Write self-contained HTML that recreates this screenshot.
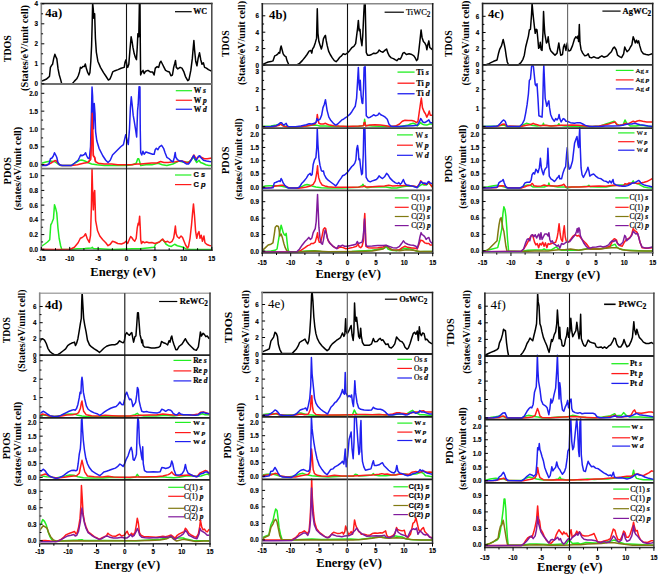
<!DOCTYPE html>
<html><head><meta charset="utf-8"><style>
html,body{margin:0;padding:0;background:#fff;}
svg{display:block;}
.tk{font-family:"Liberation Sans",sans-serif;font-weight:bold;font-size:7px;fill:#000;stroke:#000;stroke-width:0.15px;}
.el{font-family:"Liberation Serif",serif;font-weight:bold;font-size:12.5px;fill:#000;}
.pl{font-family:"Liberation Serif",serif;font-weight:bold;font-size:12.5px;fill:#000;}
.yl{font-family:"Liberation Serif",serif;font-weight:bold;fill:#000;}
.lg{font-family:"Liberation Serif",serif;fill:#000;stroke:#000;stroke-width:0.2px;}
.lgi{font-style:italic;}
</style></head><body>
<svg width="660" height="575" viewBox="0 0 660 575">
<defs><clipPath id="ca"><rect x="41.3" y="3.6" width="170.5" height="246.6"/></clipPath><clipPath id="cb"><rect x="262.3" y="3.8" width="170.4" height="249.2"/></clipPath><clipPath id="cc"><rect x="482.6" y="3.5" width="170.1" height="249.2"/></clipPath><clipPath id="cd"><rect x="39.7" y="293.3" width="170.3" height="250.4"/></clipPath><clipPath id="ce"><rect x="262.1" y="292.5" width="170.4" height="250.8"/></clipPath><clipPath id="cf"><rect x="484.9" y="293.2" width="169" height="254.3"/></clipPath></defs>
<rect width="660" height="575" fill="#fff"/>
<text transform="translate(38,86.3) scale(0.9,1)" class="tk" text-anchor="end">0</text>
<text transform="translate(38,66.3) scale(0.9,1)" class="tk" text-anchor="end">1</text>
<text transform="translate(38,46.3) scale(0.9,1)" class="tk" text-anchor="end">2</text>
<text transform="translate(38,26.3) scale(0.9,1)" class="tk" text-anchor="end">3</text>
<text transform="translate(38,6.3) scale(0.9,1)" class="tk" text-anchor="end">4</text>
<text transform="translate(38,167.2) scale(0.9,1)" class="tk" text-anchor="end">0.0</text>
<text transform="translate(38,149.35) scale(0.9,1)" class="tk" text-anchor="end">0.5</text>
<text transform="translate(38,131.5) scale(0.9,1)" class="tk" text-anchor="end">1.0</text>
<text transform="translate(38,113.65) scale(0.9,1)" class="tk" text-anchor="end">1.5</text>
<text transform="translate(38,95.8) scale(0.9,1)" class="tk" text-anchor="end">2.0</text>
<text transform="translate(38,251.8) scale(0.9,1)" class="tk" text-anchor="end">0.0</text>
<text transform="translate(38,237.08) scale(0.9,1)" class="tk" text-anchor="end">0.2</text>
<text transform="translate(38,222.36) scale(0.9,1)" class="tk" text-anchor="end">0.4</text>
<text transform="translate(38,207.64) scale(0.9,1)" class="tk" text-anchor="end">0.6</text>
<text transform="translate(38,192.92) scale(0.9,1)" class="tk" text-anchor="end">0.8</text>
<text transform="translate(38,178.2) scale(0.9,1)" class="tk" text-anchor="end">1.0</text>
<text transform="translate(41.3,261.2) scale(0.9,1)" class="tk" text-anchor="middle">-15</text>
<text transform="translate(69.72,261.2) scale(0.9,1)" class="tk" text-anchor="middle">-10</text>
<text transform="translate(98.13,261.2) scale(0.9,1)" class="tk" text-anchor="middle">-5</text>
<text transform="translate(126.55,261.2) scale(0.9,1)" class="tk" text-anchor="middle">0</text>
<text transform="translate(154.97,261.2) scale(0.9,1)" class="tk" text-anchor="middle">5</text>
<text transform="translate(183.38,261.2) scale(0.9,1)" class="tk" text-anchor="middle">10</text>
<text transform="translate(211.8,261.2) scale(0.9,1)" class="tk" text-anchor="middle">15</text>
<text x="123" y="276" class="el" text-anchor="middle" textLength="65.5" lengthAdjust="spacingAndGlyphs">Energy (eV)</text>
<text transform="translate(259,67.5) scale(0.9,1)" class="tk" text-anchor="end">0</text>
<text transform="translate(259,51.1) scale(0.9,1)" class="tk" text-anchor="end">2</text>
<text transform="translate(259,34.7) scale(0.9,1)" class="tk" text-anchor="end">4</text>
<text transform="translate(259,18.3) scale(0.9,1)" class="tk" text-anchor="end">6</text>
<text transform="translate(259,128.9) scale(0.9,1)" class="tk" text-anchor="end">0</text>
<text transform="translate(259,110.5) scale(0.9,1)" class="tk" text-anchor="end">1</text>
<text transform="translate(259,92.1) scale(0.9,1)" class="tk" text-anchor="end">2</text>
<text transform="translate(259,73.7) scale(0.9,1)" class="tk" text-anchor="end">3</text>
<text transform="translate(259,189.7) scale(0.9,1)" class="tk" text-anchor="end">0.0</text>
<text transform="translate(259,176.45) scale(0.9,1)" class="tk" text-anchor="end">0.5</text>
<text transform="translate(259,163.2) scale(0.9,1)" class="tk" text-anchor="end">1.0</text>
<text transform="translate(259,149.95) scale(0.9,1)" class="tk" text-anchor="end">1.5</text>
<text transform="translate(259,136.7) scale(0.9,1)" class="tk" text-anchor="end">2.0</text>
<text transform="translate(259,253.5) scale(0.9,1)" class="tk" text-anchor="end">0.0</text>
<text transform="translate(259,237.06) scale(0.9,1)" class="tk" text-anchor="end">0.3</text>
<text transform="translate(259,220.62) scale(0.9,1)" class="tk" text-anchor="end">0.6</text>
<text transform="translate(259,204.18) scale(0.9,1)" class="tk" text-anchor="end">0.9</text>
<text transform="translate(262.3,264.6) scale(0.9,1)" class="tk" text-anchor="middle">-15</text>
<text transform="translate(290.7,264.6) scale(0.9,1)" class="tk" text-anchor="middle">-10</text>
<text transform="translate(319.1,264.6) scale(0.9,1)" class="tk" text-anchor="middle">-5</text>
<text transform="translate(347.5,264.6) scale(0.9,1)" class="tk" text-anchor="middle">0</text>
<text transform="translate(375.9,264.6) scale(0.9,1)" class="tk" text-anchor="middle">5</text>
<text transform="translate(404.3,264.6) scale(0.9,1)" class="tk" text-anchor="middle">10</text>
<text transform="translate(432.7,264.6) scale(0.9,1)" class="tk" text-anchor="middle">15</text>
<text x="348.2" y="278" class="el" text-anchor="middle" textLength="65.5" lengthAdjust="spacingAndGlyphs">Energy (eV)</text>
<text transform="translate(479.3,67.4) scale(0.9,1)" class="tk" text-anchor="end">0</text>
<text transform="translate(479.3,51.2) scale(0.9,1)" class="tk" text-anchor="end">2</text>
<text transform="translate(479.3,35) scale(0.9,1)" class="tk" text-anchor="end">4</text>
<text transform="translate(479.3,18.8) scale(0.9,1)" class="tk" text-anchor="end">6</text>
<text transform="translate(479.3,128.9) scale(0.9,1)" class="tk" text-anchor="end">0</text>
<text transform="translate(479.3,110.5) scale(0.9,1)" class="tk" text-anchor="end">1</text>
<text transform="translate(479.3,92.1) scale(0.9,1)" class="tk" text-anchor="end">2</text>
<text transform="translate(479.3,73.7) scale(0.9,1)" class="tk" text-anchor="end">3</text>
<text transform="translate(479.3,189.7) scale(0.9,1)" class="tk" text-anchor="end">0.0</text>
<text transform="translate(479.3,176.45) scale(0.9,1)" class="tk" text-anchor="end">0.5</text>
<text transform="translate(479.3,163.2) scale(0.9,1)" class="tk" text-anchor="end">1.0</text>
<text transform="translate(479.3,149.95) scale(0.9,1)" class="tk" text-anchor="end">1.5</text>
<text transform="translate(479.3,136.7) scale(0.9,1)" class="tk" text-anchor="end">2.0</text>
<text transform="translate(479.3,253.3) scale(0.9,1)" class="tk" text-anchor="end">0.0</text>
<text transform="translate(479.3,236.86) scale(0.9,1)" class="tk" text-anchor="end">0.3</text>
<text transform="translate(479.3,220.42) scale(0.9,1)" class="tk" text-anchor="end">0.6</text>
<text transform="translate(479.3,203.98) scale(0.9,1)" class="tk" text-anchor="end">0.9</text>
<text transform="translate(482.6,264.6) scale(0.9,1)" class="tk" text-anchor="middle">-15</text>
<text transform="translate(510.95,264.6) scale(0.9,1)" class="tk" text-anchor="middle">-10</text>
<text transform="translate(539.3,264.6) scale(0.9,1)" class="tk" text-anchor="middle">-5</text>
<text transform="translate(567.65,264.6) scale(0.9,1)" class="tk" text-anchor="middle">0</text>
<text transform="translate(596,264.6) scale(0.9,1)" class="tk" text-anchor="middle">5</text>
<text transform="translate(624.35,264.6) scale(0.9,1)" class="tk" text-anchor="middle">10</text>
<text transform="translate(652.7,264.6) scale(0.9,1)" class="tk" text-anchor="middle">15</text>
<text x="567.4" y="278.8" class="el" text-anchor="middle" textLength="65.5" lengthAdjust="spacingAndGlyphs">Energy (eV)</text>
<text transform="translate(36.4,357.6) scale(0.9,1)" class="tk" text-anchor="end">0</text>
<text transform="translate(36.4,341.4) scale(0.9,1)" class="tk" text-anchor="end">2</text>
<text transform="translate(36.4,325.2) scale(0.9,1)" class="tk" text-anchor="end">4</text>
<text transform="translate(36.4,309) scale(0.9,1)" class="tk" text-anchor="end">6</text>
<text transform="translate(36.4,418.5) scale(0.9,1)" class="tk" text-anchor="end">0</text>
<text transform="translate(36.4,400.1) scale(0.9,1)" class="tk" text-anchor="end">1</text>
<text transform="translate(36.4,381.7) scale(0.9,1)" class="tk" text-anchor="end">2</text>
<text transform="translate(36.4,363.3) scale(0.9,1)" class="tk" text-anchor="end">3</text>
<text transform="translate(36.4,479.9) scale(0.9,1)" class="tk" text-anchor="end">0.0</text>
<text transform="translate(36.4,466.15) scale(0.9,1)" class="tk" text-anchor="end">0.5</text>
<text transform="translate(36.4,452.4) scale(0.9,1)" class="tk" text-anchor="end">1.0</text>
<text transform="translate(36.4,438.65) scale(0.9,1)" class="tk" text-anchor="end">1.5</text>
<text transform="translate(36.4,424.9) scale(0.9,1)" class="tk" text-anchor="end">2.0</text>
<text transform="translate(36.4,543.2) scale(0.9,1)" class="tk" text-anchor="end">0.0</text>
<text transform="translate(36.4,526.73) scale(0.9,1)" class="tk" text-anchor="end">0.3</text>
<text transform="translate(36.4,510.26) scale(0.9,1)" class="tk" text-anchor="end">0.6</text>
<text transform="translate(36.4,493.79) scale(0.9,1)" class="tk" text-anchor="end">0.9</text>
<text transform="translate(39.7,553.9) scale(0.9,1)" class="tk" text-anchor="middle">-15</text>
<text transform="translate(68.08,553.9) scale(0.9,1)" class="tk" text-anchor="middle">-10</text>
<text transform="translate(96.47,553.9) scale(0.9,1)" class="tk" text-anchor="middle">-5</text>
<text transform="translate(124.85,553.9) scale(0.9,1)" class="tk" text-anchor="middle">0</text>
<text transform="translate(153.23,553.9) scale(0.9,1)" class="tk" text-anchor="middle">5</text>
<text transform="translate(181.62,553.9) scale(0.9,1)" class="tk" text-anchor="middle">10</text>
<text transform="translate(210,553.9) scale(0.9,1)" class="tk" text-anchor="middle">15</text>
<text x="127.4" y="569.1" class="el" text-anchor="middle" textLength="65.5" lengthAdjust="spacingAndGlyphs">Energy (eV)</text>
<text transform="translate(258.8,356.5) scale(0.9,1)" class="tk" text-anchor="end">0</text>
<text transform="translate(258.8,340) scale(0.9,1)" class="tk" text-anchor="end">2</text>
<text transform="translate(258.8,323.5) scale(0.9,1)" class="tk" text-anchor="end">4</text>
<text transform="translate(258.8,307) scale(0.9,1)" class="tk" text-anchor="end">6</text>
<text transform="translate(258.8,417.8) scale(0.9,1)" class="tk" text-anchor="end">0</text>
<text transform="translate(258.8,399.7) scale(0.9,1)" class="tk" text-anchor="end">1</text>
<text transform="translate(258.8,381.6) scale(0.9,1)" class="tk" text-anchor="end">2</text>
<text transform="translate(258.8,363.5) scale(0.9,1)" class="tk" text-anchor="end">3</text>
<text transform="translate(258.8,478.7) scale(0.9,1)" class="tk" text-anchor="end">0.0</text>
<text transform="translate(258.8,465.2) scale(0.9,1)" class="tk" text-anchor="end">0.5</text>
<text transform="translate(258.8,451.7) scale(0.9,1)" class="tk" text-anchor="end">1.0</text>
<text transform="translate(258.8,438.2) scale(0.9,1)" class="tk" text-anchor="end">1.5</text>
<text transform="translate(258.8,424.7) scale(0.9,1)" class="tk" text-anchor="end">2.0</text>
<text transform="translate(258.8,542.4) scale(0.9,1)" class="tk" text-anchor="end">0.0</text>
<text transform="translate(258.8,525.9) scale(0.9,1)" class="tk" text-anchor="end">0.3</text>
<text transform="translate(258.8,509.4) scale(0.9,1)" class="tk" text-anchor="end">0.6</text>
<text transform="translate(258.8,492.9) scale(0.9,1)" class="tk" text-anchor="end">0.9</text>
<text transform="translate(262.1,553.1) scale(0.9,1)" class="tk" text-anchor="middle">-15</text>
<text transform="translate(290.5,553.1) scale(0.9,1)" class="tk" text-anchor="middle">-10</text>
<text transform="translate(318.9,553.1) scale(0.9,1)" class="tk" text-anchor="middle">-5</text>
<text transform="translate(347.3,553.1) scale(0.9,1)" class="tk" text-anchor="middle">0</text>
<text transform="translate(375.7,553.1) scale(0.9,1)" class="tk" text-anchor="middle">5</text>
<text transform="translate(404.1,553.1) scale(0.9,1)" class="tk" text-anchor="middle">10</text>
<text transform="translate(432.5,553.1) scale(0.9,1)" class="tk" text-anchor="middle">15</text>
<text x="349.1" y="567" class="el" text-anchor="middle" textLength="65.5" lengthAdjust="spacingAndGlyphs">Energy (eV)</text>
<text transform="translate(481.6,358.5) scale(0.9,1)" class="tk" text-anchor="end">0</text>
<text transform="translate(481.6,341.9) scale(0.9,1)" class="tk" text-anchor="end">2</text>
<text transform="translate(481.6,325.3) scale(0.9,1)" class="tk" text-anchor="end">4</text>
<text transform="translate(481.6,308.7) scale(0.9,1)" class="tk" text-anchor="end">6</text>
<text transform="translate(481.6,420.4) scale(0.9,1)" class="tk" text-anchor="end">0</text>
<text transform="translate(481.6,402) scale(0.9,1)" class="tk" text-anchor="end">1</text>
<text transform="translate(481.6,383.6) scale(0.9,1)" class="tk" text-anchor="end">2</text>
<text transform="translate(481.6,365.2) scale(0.9,1)" class="tk" text-anchor="end">3</text>
<text transform="translate(481.6,483.2) scale(0.9,1)" class="tk" text-anchor="end">0.0</text>
<text transform="translate(481.6,469.55) scale(0.9,1)" class="tk" text-anchor="end">0.5</text>
<text transform="translate(481.6,455.9) scale(0.9,1)" class="tk" text-anchor="end">1.0</text>
<text transform="translate(481.6,442.25) scale(0.9,1)" class="tk" text-anchor="end">1.5</text>
<text transform="translate(481.6,428.6) scale(0.9,1)" class="tk" text-anchor="end">2.0</text>
<text transform="translate(481.6,547.4) scale(0.9,1)" class="tk" text-anchor="end">0.0</text>
<text transform="translate(481.6,530.9) scale(0.9,1)" class="tk" text-anchor="end">0.3</text>
<text transform="translate(481.6,514.4) scale(0.9,1)" class="tk" text-anchor="end">0.6</text>
<text transform="translate(481.6,497.9) scale(0.9,1)" class="tk" text-anchor="end">0.9</text>
<text transform="translate(484.9,559.7) scale(0.9,1)" class="tk" text-anchor="middle">-15</text>
<text transform="translate(513.07,559.7) scale(0.9,1)" class="tk" text-anchor="middle">-10</text>
<text transform="translate(541.23,559.7) scale(0.9,1)" class="tk" text-anchor="middle">-5</text>
<text transform="translate(569.4,559.7) scale(0.9,1)" class="tk" text-anchor="middle">0</text>
<text transform="translate(597.57,559.7) scale(0.9,1)" class="tk" text-anchor="middle">5</text>
<text transform="translate(625.73,559.7) scale(0.9,1)" class="tk" text-anchor="middle">10</text>
<text transform="translate(653.9,559.7) scale(0.9,1)" class="tk" text-anchor="middle">15</text>
<text x="569.8" y="571" class="el" text-anchor="middle" textLength="65.5" lengthAdjust="spacingAndGlyphs">Energy (eV)</text>
<text transform="translate(7.8,48.7) rotate(-90)" x="0" y="3.5" class="yl" font-size="10" text-anchor="middle" textLength="27" lengthAdjust="spacingAndGlyphs">TDOS</text>
<text transform="translate(24.3,48) rotate(-90)" x="0" y="3.5" class="yl" font-size="10" text-anchor="middle" textLength="86" lengthAdjust="spacingAndGlyphs">(States/eV/unit cell)</text>
<text transform="translate(7,170.7) rotate(-90)" x="0" y="3.5" class="yl" font-size="10" text-anchor="middle" textLength="27.4" lengthAdjust="spacingAndGlyphs">PDOS</text>
<text transform="translate(17.8,168.7) rotate(-90)" x="0" y="3.5" class="yl" font-size="10" text-anchor="middle" textLength="83.5" lengthAdjust="spacingAndGlyphs">(states/eV/unit cell)</text>
<text transform="translate(225.4,43.7) rotate(-90)" x="0" y="3.5" class="yl" font-size="10" text-anchor="middle" textLength="26.6" lengthAdjust="spacingAndGlyphs">TDOS</text>
<text transform="translate(241,43) rotate(-90)" x="0" y="3.5" class="yl" font-size="10" text-anchor="middle" textLength="84" lengthAdjust="spacingAndGlyphs">(States/eV/unit cell)</text>
<text transform="translate(225.4,160.3) rotate(-90)" x="0" y="3.5" class="yl" font-size="10" text-anchor="middle" textLength="27.2" lengthAdjust="spacingAndGlyphs">PDOS</text>
<text transform="translate(238.5,159.2) rotate(-90)" x="0" y="3.5" class="yl" font-size="10" text-anchor="middle" textLength="81.5" lengthAdjust="spacingAndGlyphs">(states/eV/unit cell)</text>
<text transform="translate(448.5,43.7) rotate(-90)" x="0" y="3.5" class="yl" font-size="10" text-anchor="middle" textLength="26.6" lengthAdjust="spacingAndGlyphs">TDOS</text>
<text transform="translate(465.4,43) rotate(-90)" x="0" y="3.5" class="yl" font-size="10" text-anchor="middle" textLength="85" lengthAdjust="spacingAndGlyphs">(States/eV/unit cell)</text>
<text transform="translate(448.5,169) rotate(-90)" x="0" y="3.5" class="yl" font-size="10" text-anchor="middle" textLength="27.2" lengthAdjust="spacingAndGlyphs">PDOS</text>
<text transform="translate(462.2,166.8) rotate(-90)" x="0" y="3.5" class="yl" font-size="10" text-anchor="middle" textLength="83.7" lengthAdjust="spacingAndGlyphs">(states/eV/unit cell)</text>
<text transform="translate(6.1,330.2) rotate(-90)" x="0" y="3.5" class="yl" font-size="10" text-anchor="middle" textLength="26.1" lengthAdjust="spacingAndGlyphs">TDOS</text>
<text transform="translate(21.7,330.7) rotate(-90)" x="0" y="3.5" class="yl" font-size="10" text-anchor="middle" textLength="82.7" lengthAdjust="spacingAndGlyphs">(States/eV/unit cell)</text>
<text transform="translate(6.1,445.8) rotate(-90)" x="0" y="3.5" class="yl" font-size="10" text-anchor="middle" textLength="27.1" lengthAdjust="spacingAndGlyphs">PDOS</text>
<text transform="translate(17.8,444.1) rotate(-90)" x="0" y="3.5" class="yl" font-size="10" text-anchor="middle" textLength="84.8" lengthAdjust="spacingAndGlyphs">(states/eV/unit cell)</text>
<text transform="translate(228.5,327.5) rotate(-90)" x="0" y="3.5" class="yl" font-size="10" text-anchor="middle" textLength="31.6" lengthAdjust="spacingAndGlyphs">TDOS</text>
<text transform="translate(245.4,332) rotate(-90)" x="0" y="3.5" class="yl" font-size="10" text-anchor="middle" textLength="83.7" lengthAdjust="spacingAndGlyphs">(States/eV/unit cell)</text>
<text transform="translate(227,445.5) rotate(-90)" x="0" y="3.5" class="yl" font-size="10" text-anchor="middle" textLength="26.1" lengthAdjust="spacingAndGlyphs">PDOS</text>
<text transform="translate(240.7,444.3) rotate(-90)" x="0" y="3.5" class="yl" font-size="10" text-anchor="middle" textLength="82.7" lengthAdjust="spacingAndGlyphs">(states/eV/unit cell)</text>
<text transform="translate(450.4,332.4) rotate(-90)" x="0" y="3.5" class="yl" font-size="10" text-anchor="middle" textLength="28.2" lengthAdjust="spacingAndGlyphs">TDOS</text>
<text transform="translate(466.1,332) rotate(-90)" x="0" y="3.5" class="yl" font-size="10" text-anchor="middle" textLength="83.7" lengthAdjust="spacingAndGlyphs">(States/eV/unit cell)</text>
<text transform="translate(449.8,450.3) rotate(-90)" x="0" y="3.5" class="yl" font-size="10" text-anchor="middle" textLength="27.2" lengthAdjust="spacingAndGlyphs">PDOS</text>
<text transform="translate(462.8,448.7) rotate(-90)" x="0" y="3.5" class="yl" font-size="10" text-anchor="middle" textLength="82.6" lengthAdjust="spacingAndGlyphs">(states/eV/unit cell)</text>
<line x1="175" y1="11.7" x2="191.7" y2="11.7" stroke="#000" stroke-width="1.2"/>
<text x="193.3" y="14.34" class="lg" style="font-size:8px;font-weight:bold">WC</text>
<line x1="175.8" y1="90.7" x2="192.1" y2="90.7" stroke="#22ee22" stroke-width="1.2"/>
<text x="193.75" y="93.17" class="lg" style="font-size:7.5px;font-weight:bold">W <tspan style="font-style:italic;font-weight:bold">s</tspan></text>
<line x1="175.8" y1="100.25" x2="192.1" y2="100.25" stroke="#ff1a1a" stroke-width="1.2"/>
<text x="193.75" y="102.72" class="lg" style="font-size:7.5px;font-weight:bold">W <tspan style="font-style:italic;font-weight:bold">p</tspan></text>
<line x1="175.8" y1="109.25" x2="192.1" y2="109.25" stroke="#2020f0" stroke-width="1.2"/>
<text x="193.75" y="111.72" class="lg" style="font-size:7.5px;font-weight:bold">W <tspan style="font-style:italic;font-weight:bold">d</tspan></text>
<line x1="175" y1="175" x2="191.4" y2="175" stroke="#22ee22" stroke-width="1.2"/>
<text x="193.5" y="177.47" class="lg" style="font-family:'Liberation Sans',sans-serif;font-size:7.5px;font-weight:bold">C <tspan style="font-style:italic;font-weight:bold">s</tspan></text>
<line x1="175" y1="184.6" x2="191.4" y2="184.6" stroke="#ff1a1a" stroke-width="1.2"/>
<text x="193.5" y="187.07" class="lg" style="font-family:'Liberation Sans',sans-serif;font-size:7.5px;font-weight:bold">C <tspan style="font-style:italic;font-weight:bold">p</tspan></text>
<line x1="384.6" y1="12.2" x2="403.9" y2="12.2" stroke="#000" stroke-width="1.2"/>
<text x="405.9" y="15" class="lg" style="font-size:8.5px;font-weight:normal">TiWC<tspan style="font-size:7.22px" dy="1.8">2</tspan></text>
<line x1="397.5" y1="72.1" x2="414.6" y2="72.1" stroke="#22ee22" stroke-width="1.3"/>
<text x="416.25" y="74.74" class="lg" style="font-size:8px;font-weight:bold">Ti <tspan style="font-style:italic;font-weight:bold">s</tspan></text>
<line x1="397.5" y1="83.2" x2="414.6" y2="83.2" stroke="#ff1a1a" stroke-width="1.3"/>
<text x="416.25" y="85.84" class="lg" style="font-size:8px;font-weight:bold">Ti <tspan style="font-style:italic;font-weight:bold">p</tspan></text>
<line x1="397.5" y1="93.75" x2="414.6" y2="93.75" stroke="#2020f0" stroke-width="1.3"/>
<text x="416.25" y="96.39" class="lg" style="font-size:8px;font-weight:bold">Ti <tspan style="font-style:italic;font-weight:bold">d</tspan></text>
<line x1="397" y1="134.9" x2="412.9" y2="134.9" stroke="#22ee22" stroke-width="1.2"/>
<text x="415.4" y="137.54" class="lg" style="font-size:8px;font-weight:normal">W <tspan style="font-style:italic;font-weight:bold">s</tspan></text>
<line x1="397" y1="145.2" x2="412.9" y2="145.2" stroke="#ff1a1a" stroke-width="1.2"/>
<text x="415.4" y="147.84" class="lg" style="font-size:8px;font-weight:normal">W <tspan style="font-style:italic;font-weight:bold">p</tspan></text>
<line x1="397" y1="155.3" x2="412.9" y2="155.3" stroke="#2020f0" stroke-width="1.2"/>
<text x="415.4" y="157.94" class="lg" style="font-size:8px;font-weight:normal">W <tspan style="font-style:italic;font-weight:bold">d</tspan></text>
<line x1="394.8" y1="197.9" x2="408.7" y2="197.9" stroke="#22ee22" stroke-width="1.2"/>
<text x="411.3" y="200.38" class="lg" style="font-size:7.5px;font-weight:normal">C(1) <tspan style="font-style:italic;font-weight:bold">s</tspan></text>
<line x1="394.8" y1="207.3" x2="408.7" y2="207.3" stroke="#ff1a1a" stroke-width="1.2"/>
<text x="411.3" y="209.78" class="lg" style="font-size:7.5px;font-weight:normal">C(1) <tspan style="font-style:italic;font-weight:bold">p</tspan></text>
<line x1="394.8" y1="216.5" x2="408.7" y2="216.5" stroke="#807a12" stroke-width="1.2"/>
<text x="411.3" y="218.97" class="lg" style="font-size:7.5px;font-weight:normal">C(2) <tspan style="font-style:italic;font-weight:bold">s</tspan></text>
<line x1="394.8" y1="225.6" x2="408.7" y2="225.6" stroke="#801a9c" stroke-width="1.2"/>
<text x="411.3" y="228.07" class="lg" style="font-size:7.5px;font-weight:normal">C(2) <tspan style="font-style:italic;font-weight:bold">p</tspan></text>
<line x1="602.4" y1="11.1" x2="620.6" y2="11.1" stroke="#000" stroke-width="1.2"/>
<text x="622.5" y="13.9" class="lg" style="font-size:8.5px;font-weight:bold">AgWC<tspan style="font-size:7.22px" dy="1.8">2</tspan></text>
<line x1="615.8" y1="70.4" x2="633.6" y2="70.4" stroke="#22ee22" stroke-width="1.2"/>
<text x="635.5" y="72.71" class="lg" style="font-size:7px;font-weight:normal">Ag <tspan style="font-style:italic;font-weight:bold">s</tspan></text>
<line x1="615.8" y1="79.9" x2="633.6" y2="79.9" stroke="#ff1a1a" stroke-width="1.2"/>
<text x="635.5" y="82.21" class="lg" style="font-size:7px;font-weight:normal">Ag <tspan style="font-style:italic;font-weight:bold">p</tspan></text>
<line x1="615.8" y1="88.9" x2="633.6" y2="88.9" stroke="#2020f0" stroke-width="1.2"/>
<text x="635.5" y="91.21" class="lg" style="font-size:7px;font-weight:normal">Ag <tspan style="font-style:italic;font-weight:bold">d</tspan></text>
<line x1="618.1" y1="132.9" x2="634.5" y2="132.9" stroke="#22ee22" stroke-width="1.2"/>
<text x="636.7" y="135.05" class="lg" style="font-size:6.5px;font-weight:normal">W <tspan style="font-style:italic;font-weight:bold">s</tspan></text>
<line x1="618.1" y1="141.7" x2="634.5" y2="141.7" stroke="#ff1a1a" stroke-width="1.2"/>
<text x="636.7" y="143.84" class="lg" style="font-size:6.5px;font-weight:normal">W <tspan style="font-style:italic;font-weight:bold">p</tspan></text>
<line x1="618.1" y1="150.2" x2="634.5" y2="150.2" stroke="#2020f0" stroke-width="1.2"/>
<text x="636.7" y="152.34" class="lg" style="font-size:6.5px;font-weight:normal">W <tspan style="font-style:italic;font-weight:bold">d</tspan></text>
<line x1="615.3" y1="197.9" x2="628.7" y2="197.9" stroke="#22ee22" stroke-width="1.2"/>
<text x="629.6" y="200.38" class="lg" style="font-size:7.5px;font-weight:normal">C(1) <tspan style="font-style:italic;font-weight:bold">s</tspan></text>
<line x1="615.3" y1="207.3" x2="628.7" y2="207.3" stroke="#ff1a1a" stroke-width="1.2"/>
<text x="629.6" y="209.78" class="lg" style="font-size:7.5px;font-weight:normal">C(1) <tspan style="font-style:italic;font-weight:bold">p</tspan></text>
<line x1="615.3" y1="216.5" x2="628.7" y2="216.5" stroke="#807a12" stroke-width="1.2"/>
<text x="629.6" y="218.97" class="lg" style="font-size:7.5px;font-weight:normal">C(2) <tspan style="font-style:italic;font-weight:bold">s</tspan></text>
<line x1="615.3" y1="225.6" x2="628.7" y2="225.6" stroke="#801a9c" stroke-width="1.2"/>
<text x="629.6" y="228.07" class="lg" style="font-size:7.5px;font-weight:normal">C(2) <tspan style="font-style:italic;font-weight:bold">p</tspan></text>
<line x1="159.1" y1="301.5" x2="177.3" y2="301.5" stroke="#000" stroke-width="1.2"/>
<text x="179.8" y="304.31" class="lg" style="font-size:8.5px;font-weight:bold">ReWC<tspan style="font-size:7.22px" dy="1.8">2</tspan></text>
<line x1="173.5" y1="360.4" x2="191.3" y2="360.4" stroke="#22ee22" stroke-width="1.2"/>
<text x="193.2" y="362.88" class="lg" style="font-size:7.5px;font-weight:bold">Re <tspan style="font-style:italic;font-weight:bold">s</tspan></text>
<line x1="173.5" y1="370.9" x2="191.3" y2="370.9" stroke="#ff1a1a" stroke-width="1.2"/>
<text x="193.2" y="373.38" class="lg" style="font-size:7.5px;font-weight:bold">Re <tspan style="font-style:italic;font-weight:bold">p</tspan></text>
<line x1="173.5" y1="380.9" x2="191.3" y2="380.9" stroke="#2020f0" stroke-width="1.2"/>
<text x="193.2" y="383.38" class="lg" style="font-size:7.5px;font-weight:bold">Re <tspan style="font-style:italic;font-weight:bold">d</tspan></text>
<line x1="175" y1="422.4" x2="190.8" y2="422.4" stroke="#22ee22" stroke-width="1.2"/>
<text x="193.1" y="424.71" class="lg" style="font-size:7px;font-weight:bold">W <tspan style="font-style:italic;font-weight:bold">s</tspan></text>
<line x1="175" y1="432.6" x2="190.8" y2="432.6" stroke="#ff1a1a" stroke-width="1.2"/>
<text x="193.1" y="434.91" class="lg" style="font-size:7px;font-weight:bold">W <tspan style="font-style:italic;font-weight:bold">p</tspan></text>
<line x1="175" y1="441.6" x2="190.8" y2="441.6" stroke="#2020f0" stroke-width="1.2"/>
<text x="193.1" y="443.91" class="lg" style="font-size:7px;font-weight:bold">W <tspan style="font-style:italic;font-weight:bold">d</tspan></text>
<line x1="168.2" y1="487.3" x2="184" y2="487.3" stroke="#22ee22" stroke-width="1.2"/>
<text x="184" y="489.78" class="lg" style="font-size:7.5px;font-weight:normal">C(1) <tspan style="font-style:italic;font-weight:bold">s</tspan></text>
<line x1="168.2" y1="496.3" x2="184" y2="496.3" stroke="#ff1a1a" stroke-width="1.2"/>
<text x="184" y="498.78" class="lg" style="font-size:7.5px;font-weight:normal">C(1) <tspan style="font-style:italic;font-weight:bold">p</tspan></text>
<line x1="168.2" y1="508.3" x2="184" y2="508.3" stroke="#807a12" stroke-width="1.2"/>
<text x="184" y="510.78" class="lg" style="font-size:7.5px;font-weight:normal">C(2) <tspan style="font-style:italic;font-weight:bold">s</tspan></text>
<line x1="168.2" y1="516.8" x2="184" y2="516.8" stroke="#801a9c" stroke-width="1.2"/>
<text x="184" y="519.27" class="lg" style="font-size:7.5px;font-weight:normal">C(2) <tspan style="font-style:italic;font-weight:bold">p</tspan></text>
<line x1="384.9" y1="299.2" x2="397.3" y2="299.2" stroke="#000" stroke-width="1.2"/>
<text x="399.2" y="302" class="lg" style="font-size:8.5px;font-weight:bold">OsWC<tspan style="font-size:7.22px" dy="1.8">2</tspan></text>
<line x1="397.3" y1="359.3" x2="412" y2="359.3" stroke="#22ee22" stroke-width="1.2"/>
<text x="414" y="361.78" class="lg" style="font-size:7.5px;font-weight:normal">Os <tspan style="font-style:italic;font-weight:bold">s</tspan></text>
<line x1="397.3" y1="368.4" x2="412" y2="368.4" stroke="#ff1a1a" stroke-width="1.2"/>
<text x="414" y="370.88" class="lg" style="font-size:7.5px;font-weight:normal">Os <tspan style="font-style:italic;font-weight:bold">p</tspan></text>
<line x1="397.3" y1="378" x2="412" y2="378" stroke="#2020f0" stroke-width="1.2"/>
<text x="414" y="380.48" class="lg" style="font-size:7.5px;font-weight:normal">Os <tspan style="font-style:italic;font-weight:bold">d</tspan></text>
<line x1="397.3" y1="423.1" x2="412.4" y2="423.1" stroke="#22ee22" stroke-width="1.2"/>
<text x="414.2" y="425.41" class="lg" style="font-size:7px;font-weight:bold">W <tspan style="font-style:italic;font-weight:bold">s</tspan></text>
<line x1="397.3" y1="432.1" x2="412.4" y2="432.1" stroke="#ff1a1a" stroke-width="1.2"/>
<text x="414.2" y="434.41" class="lg" style="font-size:7px;font-weight:bold">W <tspan style="font-style:italic;font-weight:bold">p</tspan></text>
<line x1="397.3" y1="440.5" x2="412.4" y2="440.5" stroke="#2020f0" stroke-width="1.2"/>
<text x="414.2" y="442.81" class="lg" style="font-size:7px;font-weight:bold">W <tspan style="font-style:italic;font-weight:bold">d</tspan></text>
<line x1="393.4" y1="486.8" x2="407.9" y2="486.8" stroke="#22ee22" stroke-width="1.2"/>
<text x="408.6" y="489.28" class="lg" style="font-family:'Liberation Sans',sans-serif;font-size:7.5px;font-weight:bold">C(1) <tspan style="font-style:italic;font-weight:bold">s</tspan></text>
<line x1="393.4" y1="495.8" x2="407.9" y2="495.8" stroke="#ff1a1a" stroke-width="1.2"/>
<text x="408.6" y="498.28" class="lg" style="font-family:'Liberation Sans',sans-serif;font-size:7.5px;font-weight:bold">C(1) <tspan style="font-style:italic;font-weight:bold">p</tspan></text>
<line x1="393.4" y1="505.5" x2="407.9" y2="505.5" stroke="#807a12" stroke-width="1.2"/>
<text x="408.6" y="507.98" class="lg" style="font-family:'Liberation Sans',sans-serif;font-size:7.5px;font-weight:bold">C(2) <tspan style="font-style:italic;font-weight:bold">s</tspan></text>
<line x1="393.4" y1="514.6" x2="407.9" y2="514.6" stroke="#801a9c" stroke-width="1.2"/>
<text x="408.6" y="517.08" class="lg" style="font-family:'Liberation Sans',sans-serif;font-size:7.5px;font-weight:bold">C(2) <tspan style="font-style:italic;font-weight:bold">p</tspan></text>
<line x1="604.1" y1="304.3" x2="615.6" y2="304.3" stroke="#000" stroke-width="1.6"/>
<text x="618.5" y="307.27" class="lg" style="font-size:9px;font-weight:bold">PtWC<tspan style="font-size:7.65px" dy="1.8">2</tspan></text>
<line x1="611.4" y1="363.7" x2="628.6" y2="363.7" stroke="#22ee22" stroke-width="1.3"/>
<text x="630" y="366.18" class="lg" style="font-size:7.5px;font-weight:bold">Pt <tspan style="font-style:italic;font-weight:bold">s</tspan></text>
<line x1="611.4" y1="373.6" x2="628.6" y2="373.6" stroke="#ff1a1a" stroke-width="1.3"/>
<text x="630" y="376.08" class="lg" style="font-size:7.5px;font-weight:bold">Pt <tspan style="font-style:italic;font-weight:bold">p</tspan></text>
<line x1="611.4" y1="383.4" x2="628.6" y2="383.4" stroke="#2020f0" stroke-width="1.3"/>
<text x="630" y="385.88" class="lg" style="font-size:7.5px;font-weight:bold">Pt <tspan style="font-style:italic;font-weight:bold">d</tspan></text>
<line x1="612.1" y1="426.9" x2="630.2" y2="426.9" stroke="#22ee22" stroke-width="1.2"/>
<text x="631.3" y="429.21" class="lg" style="font-size:7px;font-weight:bold">W <tspan style="font-style:italic;font-weight:bold">s</tspan></text>
<line x1="612.1" y1="437.8" x2="630.2" y2="437.8" stroke="#ff1a1a" stroke-width="1.2"/>
<text x="631.3" y="440.11" class="lg" style="font-size:7px;font-weight:bold">W <tspan style="font-style:italic;font-weight:bold">p</tspan></text>
<line x1="612.1" y1="446.1" x2="630.2" y2="446.1" stroke="#2020f0" stroke-width="1.2"/>
<text x="631.3" y="448.41" class="lg" style="font-size:7px;font-weight:bold">W <tspan style="font-style:italic;font-weight:bold">d</tspan></text>
<line x1="613.2" y1="489.1" x2="629" y2="489.1" stroke="#22ee22" stroke-width="1.2"/>
<text x="630.2" y="491.74" class="lg" style="font-size:8px;font-weight:normal">C(1) <tspan style="font-style:italic;font-weight:bold">s</tspan></text>
<line x1="613.2" y1="498.8" x2="629" y2="498.8" stroke="#ff1a1a" stroke-width="1.2"/>
<text x="630.2" y="501.44" class="lg" style="font-size:8px;font-weight:normal">C(1) <tspan style="font-style:italic;font-weight:bold">p</tspan></text>
<line x1="613.2" y1="508.7" x2="629" y2="508.7" stroke="#807a12" stroke-width="1.2"/>
<text x="630.2" y="511.34" class="lg" style="font-size:8px;font-weight:normal">C(2) <tspan style="font-style:italic;font-weight:bold">s</tspan></text>
<line x1="613.2" y1="518.4" x2="629" y2="518.4" stroke="#801a9c" stroke-width="1.2"/>
<text x="630.2" y="521.04" class="lg" style="font-size:8px;font-weight:normal">C(2) <tspan style="font-style:italic;font-weight:bold">p</tspan></text>

<path d="M41.53 81.12 L43.83 80.2 L46.12 79.29 L48.42 77.45 L49.49 76.22 L50.41 67.35 L51.48 65.51 L52.55 64.29 L53.78 58.16 L54.85 54.34 L55.77 56.63 L56.84 58.93 L58.06 68.88 L59.29 75 L60.66 79.59 L61.73 83.88 L72.14 83.88 L74.44 81.12 L76.73 78.83 L78.27 75.77 L79.49 71.94 L80.41 67.35 L81.63 68.11 L82.86 66.58 L84.39 66.58 L85.31 63.98 L86.38 68.57 L87.76 72.7 L88.98 75 L89.9 72.7 L90.82 61.22 L91.58 45.92 L92.19 22.96 L92.65 3.06 L93.27 9.18 L93.88 18.37 L94.64 13.78 L95.41 38.27 L96.33 52.04 L97.86 61.22 L100.46 67.35 L103.52 72.7 L106.12 76.53 L108.42 80.05 L110.1 78.83 L111.33 75.77 L112.7 71.94 L115 70.71 L118.06 69.64 L121.12 68.27 L124.18 67.35 L125.1 61.99 L126.02 59.69 L126.94 65.82 L127.76 67.35 L128.83 64.29 L129.9 50.51 L131.12 36.73 L132.04 41.33 L132.96 47.45 L134.18 53.57 L135.41 57.4 L136.48 59.69 L137.24 47.45 L137.86 33.67 L138.78 36.73 L139.39 3.06 L140 3.06 L140.31 45.92 L140.61 75 L141.84 71.94 L143.06 70.41 L144.13 73.47 L145.66 71.17 L147.96 70.41 L150.26 71.94 L152.55 71.94 L154.08 75 L155.31 68.11 L157.14 66.58 L158.67 67.35 L159.9 62.76 L160.97 61.22 L162.5 64.29 L164.03 67.35 L165.56 70.41 L167.09 71.17 L169.39 71.94 L170.92 75.77 L172.45 75 L173.67 67.35 L174.74 63.52 L175.51 60.46 L176.28 67.35 L177.81 68.88 L180.1 67.35 L181.94 68.11 L183.93 71.94 L185.46 76.53 L187.76 80.66 L188.98 79.59 L190.82 70.41 L192.35 58.16 L193.11 48.98 L193.88 40.56 L194.64 50.51 L195.71 61.22 L196.94 65.82 L198.16 58.16 L199.54 52.81 L200.77 59.69 L201.99 64.29 L203.37 62.76 L204.59 67.35 L206.43 68.11 L208.42 69.64 L211.48 71.17" stroke="#000" stroke-width="1.5" fill="none" stroke-linejoin="round" clip-path="url(#ca)"/>
<path d="M41.5 163.24 L45.98 162.04 L50.47 160.99 L54.95 161.74 L57.94 163.98 L60.93 165.48 L71.4 165.48 L75.88 162.49 L79.62 160.25 L81.86 159.95 L84.85 160.99 L87.84 162.49 L91.58 163.98 L96.81 164.73 L104.29 165.48 L114.75 165.48 L126.71 165.48 L132.48 164.73 L136.21 163.24 L137.71 158.75 L138.75 158.75 L139.65 161.74 L140.7 165.48 L145.93 164.73 L151.91 164.73 L157.89 163.24 L162.38 164.73 L166.86 165.48 L172.84 163.98 L178.82 160.99 L184.8 162.49 L189.29 161.74 L192.28 158.75 L193.77 157.26 L195.27 160.25 L196.76 162.49 L199 160.25 L200.5 162.49 L202.74 163.24 L205.73 164.73 L208.72 165.48 L212.01 165.48" stroke="#22ee22" stroke-width="1.5" fill="none" stroke-linejoin="round" clip-path="url(#ca)"/>
<path d="M41.5 165.48 L47.48 164.73 L51.96 162.49 L54.95 160.54 L56.45 160.99 L57.94 163.24 L60.93 165.48 L71.4 165.48 L77.38 164.73 L83.36 163.24 L87.84 162.49 L90.53 159.5 L91.43 143.8 L92.18 113.9 L92.77 136.33 L93.37 155.76 L94.57 157.26 L95.61 161.74 L98.31 163.24 L104.29 163.98 L111.76 163.98 L117.74 164.73 L126.71 164.73 L130.98 164.73 L136.96 163.98 L140.7 163.98 L145.93 163.53 L151.91 162.94 L157.14 162.94 L160.58 161.44 L163.87 162.49 L168.36 162.49 L171.35 162.04 L175.83 161.74 L178.82 160.99 L181.81 160.99 L184.8 161.74 L187.79 162.94 L190.78 160.25 L193.77 155.01 L195.27 157.26 L196.76 158.75 L199 156.51 L201.25 157.26 L204.24 158.75 L207.23 158.75 L212.01 158" stroke="#ff1a1a" stroke-width="1.5" fill="none" stroke-linejoin="round" clip-path="url(#ca)"/>
<path d="M41.5 165.48 L45.98 165.48 L48.97 163.98 L50.47 158.75 L51.96 158 L53.46 155.76 L54.5 152.77 L55.7 155.01 L56.74 157.26 L57.94 162.49 L59.44 164.73 L62.43 165.48 L71.4 165.48 L74.39 163.24 L78.12 160.25 L79.62 157.26 L80.66 155.01 L81.86 155.76 L83.36 155.01 L84.55 154.27 L85.6 152.77 L86.64 155.76 L87.84 158 L89.34 158.75 L90.53 146.79 L91.43 113.9 L92.03 86.99 L92.62 95.96 L93.37 128.85 L94.27 103.44 L95.02 113.9 L95.61 131.84 L96.81 140.81 L99.05 148.29 L102.79 155.76 L105.78 160.25 L108.02 162.49 L110.27 160.25 L112.51 155.01 L114.75 152.77 L117.74 149.78 L120.73 146.79 L123.42 144.55 L124.62 139.32 L125.66 134.83 L126.71 138.57 L127.46 141.56 L128.29 144.55 L129.49 128.85 L130.38 107.92 L131.28 96.71 L132.18 104.93 L133.22 115.4 L134.27 121.38 L135.47 128.85 L136.66 137.07 L137.56 110.91 L138.16 104.93 L139.05 86.69 L139.95 86.99 L140.25 128.85 L140.7 152.77 L141.74 155.01 L142.94 151.28 L144.14 154.27 L145.93 152.02 L148.17 152.77 L150.42 153.52 L152.66 154.27 L154.15 154.27 L155.2 149.78 L156.4 148.29 L157.89 149.78 L159.39 146.79 L161.63 145.3 L163.57 148.29 L165.07 152.77 L166.86 157.26 L169.1 158.75 L171.35 160.99 L173.14 161.74 L174.34 157.26 L175.23 152.47 L175.83 157.26 L177.33 159.5 L179.57 160.99 L181.81 160.99 L184.05 162.49 L186.3 163.98 L188.54 163.98 L190.78 160.99 L192.28 158 L193.77 155.46 L194.97 158.75 L196.46 160.25 L198.26 156.51 L199.75 155.76 L201.25 158 L203.49 160.25 L206.48 160.99 L209.47 161.44 L212.01 161.74" stroke="#2020f0" stroke-width="1.5" fill="none" stroke-linejoin="round" clip-path="url(#ca)"/>
<path d="M41.2 246.49 L44.49 244.25 L47.48 242 L49.72 239.76 L50.76 224.81 L51.96 222.57 L53.46 218.83 L54.5 204.63 L55.7 208.37 L56.74 212.85 L57.94 227.8 L59.14 238.27 L60.63 245.74 L61.68 249.18 L69.9 249.48 L77.38 248.73 L84.85 248.43 L91.58 247.98 L92.33 247.24 L93.07 248.43 L99.8 248.73 L111.76 249.48 L132.48 248.73 L139.95 248.73 L147.43 247.98 L154.15 247.24 L155.65 244.25 L157.89 242.75 L160.13 241.26 L162.38 239.46 L164.17 241.26 L166.11 244.25 L168.36 245.74 L171.35 246.49 L174.63 244.25 L177.33 245.74 L180.32 246.49 L183.31 247.24 L186.3 249.03 L190.78 249.48 L199.75 249.48 L211.71 249.48" stroke="#22ee22" stroke-width="1.5" fill="none" stroke-linejoin="round" clip-path="url(#ca)"/>
<path d="M41.2 249.18 L54.95 249.48 L69.9 249.48 L74.39 247.24 L78.12 242.75 L80.37 238.27 L82.16 237.52 L84.1 236.02 L85.6 233.78 L87.09 238.27 L89.34 242.45 L90.53 235.28 L91.43 205.38 L92.03 168.75 L92.62 190.43 L93.37 209.86 L94.12 193.42 L94.72 190.43 L95.61 220.33 L97.56 230.79 L99.8 236.02 L102.79 239.76 L105.78 242.75 L108.02 245.74 L110.27 244.25 L112.51 241.26 L114.75 242 L117.74 243.5 L121.48 243.95 L124.47 242.75 L125.96 241.26 L127.46 243.5 L127.99 242.75 L129.49 239.01 L130.68 236.47 L131.73 237.52 L133.22 239.76 L134.72 241.26 L136.21 238.27 L137.26 227.8 L138.16 223.32 L138.75 224.81 L139.65 216.14 L140.25 227.8 L140.7 239.76 L141.45 243.5 L142.94 241.55 L144.44 242.75 L146.68 242 L148.92 242.75 L151.91 242.45 L154.9 243.5 L157.14 242.75 L159.39 242 L160.88 240.51 L162.67 239.01 L164.17 241.26 L165.66 242 L167.61 241.26 L169.85 242.75 L172.09 241.26 L173.59 238.27 L174.34 233.78 L175.38 226.01 L176.13 233.78 L177.33 236.77 L179.12 238.27 L181.06 236.02 L182.56 237.52 L184.05 241.26 L185.55 244.99 L187.49 247.98 L188.54 246.49 L190.03 238.27 L191.53 224.81 L192.57 212.85 L193.47 203.88 L194.52 215.84 L195.56 230.79 L196.76 238.27 L197.81 233.78 L199 231.54 L200.05 238.27 L201.25 235.28 L202.44 241.26 L203.94 236.02 L204.98 242.75 L206.93 244.54 L209.47 245.44 L211.71 245.74" stroke="#ff1a1a" stroke-width="1.5" fill="none" stroke-linejoin="round" clip-path="url(#ca)"/>
<path d="M262.45 64.73 L265.45 63.09 L268.18 62 L270.91 61.59 L272.95 60.91 L274.73 55.86 L276.36 55.18 L277.73 54.09 L278.82 52.45 L279.77 53.14 L280.45 48.36 L281.14 45.91 L282.09 49.73 L283.18 53.82 L284.55 55.86 L285.91 56.55 L287 60.64 L288.91 65 L296.82 65 L299.55 63.36 L302.27 60.64 L305 57.23 L307.05 54.5 L309.09 51.09 L310.73 50.41 L311.82 53.14 L312.5 49.05 L313.86 47 L315.23 42.91 L316.59 38.14 L317.27 8.82 L317.95 33.36 L318.91 41.55 L320 44.95 L321.36 49.05 L322.45 44.95 L323.41 38.82 L324.77 36.09 L325.45 35.41 L326.14 40.18 L327.23 45.64 L328.59 51.09 L330.23 54.5 L332.27 57.91 L334.32 60.64 L336.09 61.73 L337.73 59.95 L339.77 57.23 L341.55 55.86 L343.18 53.82 L345.23 54.5 L347.27 53.14 L349.77 50.41 L351.82 47.68 L353.86 46.32 L355.64 43.59 L356.59 36.09 L357.55 28.59 L358.36 20.41 L359.18 30.64 L360 29.27 L360.82 38.82 L361.91 45.64 L362.73 36.09 L363.82 12.91 L364.36 3.36 L365.18 3.36 L365.73 29.27 L366.27 52.45 L367.5 55.18 L369.55 55.18 L371.59 54.5 L373.64 53.14 L375.68 53.55 L377.73 52.45 L379.09 50 L380.73 51.36 L382.91 52.18 L384.82 50.41 L386.59 49.05 L387.95 53.14 L389.32 55.86 L391.36 57.91 L393.41 58.59 L395.45 59.95 L396.82 60.64 L398.86 58.59 L400.23 59.27 L401.59 56.55 L402.95 53.14 L404.32 52.45 L406.36 54.5 L409.09 53.82 L411.82 54.5 L413.86 55.86 L415.23 57.91 L416.59 60.64 L417.68 59.27 L418.64 52.45 L420 40.18 L421.09 29.95 L422.05 37.45 L423.41 41.55 L424.77 42.91 L426.14 45.64 L426.82 49.73 L427.91 44.27 L428.86 40.86 L429.82 47.68 L430.91 48.36 L432.27 49.73" stroke="#000" stroke-width="1.5" fill="none" stroke-linejoin="round" clip-path="url(#cb)"/>
<path d="M485.45 65 L488.18 64.05 L490.91 62.68 L493.64 61.32 L497.05 59.95 L498.41 53.82 L499.77 49.05 L501.55 45.64 L503.18 39.5 L504.27 44.27 L505.23 49.05 L506.32 56.55 L507.27 62 L508.64 65 L518.18 65 L520.91 62.68 L522.95 59.27 L524.32 55.18 L525.68 47 L527.05 41.55 L528.41 36.09 L529.36 29.95 L530.45 29.27 L531.55 14.27 L532.09 3.36 L532.91 12.91 L533.86 21.77 L534.55 27.91 L535.23 33.36 L536.18 29.27 L537 29.95 L537.95 40.18 L538.64 48.36 L539.73 47 L540.27 42.23 L541.09 49.73 L542.05 50.41 L543 32 L543.55 11.55 L544.09 22.45 L544.77 33.36 L545.45 37.45 L546.41 42.91 L547.5 41.55 L548.18 36.77 L548.86 42.91 L549.82 48.36 L550.91 51.09 L552.95 53.14 L555 55.18 L557.05 53.14 L558.82 42.91 L559.77 49.73 L560.73 55.18 L562.5 54.5 L563.45 47 L564.55 44.27 L565.91 50.41 L567.27 42.91 L567.73 48.36 L568.82 51.09 L570.45 50.41 L572.5 45.64 L574.55 38.82 L575.91 36.77 L577.27 38.14 L577.95 36.09 L578.64 41.55 L579.32 24.5 L580 42.91 L581.09 49.73 L582.73 53.14 L584.77 55.86 L586.82 55.18 L588.18 53.82 L589.55 57.23 L591.59 57.91 L593.64 56.82 L595.68 57.64 L598.41 58.18 L600.45 56.55 L601.82 55.86 L603.86 57.23 L605.91 56.55 L607.55 55.86 L609.32 53.82 L611.36 51.77 L613 48.36 L614.36 47 L616.14 49.73 L617.5 55.18 L619.55 56.55 L621.59 57.64 L623.64 53.82 L624.73 47 L625.68 49.05 L627.05 51.77 L629.09 49.73 L630.45 47 L631.82 44.95 L633.18 36.77 L634.27 39.5 L635.23 42.91 L636.59 40.18 L637.55 42.91 L638.64 40.86 L639.73 45.64 L641.36 51.09 L643.41 53.82 L646.14 54.5 L648.86 54.91 L652.27 53.82" stroke="#000" stroke-width="1.5" fill="none" stroke-linejoin="round" clip-path="url(#cc)"/>
<path d="M262.45 126.45 L270.91 126.05 L276.36 125.09 L280.45 124 L282.5 125.36 L287.27 126.73 L300.91 126.73 L311.82 125.36 L317.27 125.36 L320 126.05 L325.45 126.05 L336.36 126.45 L358.64 126.45 L363.82 125.36 L364.64 119.23 L365.45 125.36 L372.27 126.05 L385.91 126.45 L399.55 126.45 L407.73 125.36 L410.45 124 L413.18 123.32 L415.23 124 L417.27 126.05 L419.32 124 L420.68 122.64 L422.05 124 L424.09 124.68 L426.82 125.09 L429.55 124 L432.27 124" stroke="#22ee22" stroke-width="1.5" fill="none" stroke-linejoin="round" clip-path="url(#cb)"/>
<path d="M482.45 126.45 L496.36 126.05 L501.82 125.36 L503.86 125.09 L506.59 126.45 L520.91 126.45 L523.64 124.68 L526.36 123.32 L529.09 124 L531.82 125.36 L537.27 126.05 L542.73 125.36 L543.41 123.32 L544.09 125.36 L550.91 126.05 L557.73 125.36 L558.82 123.73 L559.77 125.36 L564.55 126.05 L578.64 126.45 L592.27 126.45 L600.45 126.05 L605.91 124 L610 122.64 L614.09 121.27 L616.55 124 L619.55 125.36 L622.95 125.36 L625 119.91 L626.36 122.64 L627.73 124 L630.45 126.05 L635.91 126.05 L641.36 125.36 L646.82 126.05 L652.27 126.45" stroke="#22ee22" stroke-width="1.5" fill="none" stroke-linejoin="round" clip-path="url(#cc)"/>
<path d="M262.45 127 L273.64 126.73 L279.09 125.36 L281.14 124 L282.5 125.64 L284.55 126.45 L295.45 127 L306.36 126.05 L311.82 125.09 L315.23 124 L316.59 121.27 L317.27 114.45 L317.95 118.55 L318.91 123.32 L320.68 124 L323.41 124 L325.45 123.32 L326.82 124 L329.55 125.09 L333.64 125.64 L339.09 126.05 L347.27 126.45 L358.64 126.05 L363.41 125.64 L364.09 122.64 L364.91 122.36 L365.73 126.05 L369.55 125.09 L375 124.68 L380.45 125.09 L385.91 125.64 L390 126.45 L395.45 126.05 L399.55 124 L402.27 121.27 L405 120.18 L408.41 120.59 L411.82 120.59 L414.55 121.27 L416.59 122.64 L417.95 121.27 L419.32 111.73 L420.68 102.18 L421.36 98.09 L422.45 107.64 L424.09 111.73 L425.45 113.77 L426.82 117.18 L428.18 114.45 L429.27 111.05 L430.23 115.14 L432.27 115.14" stroke="#ff1a1a" stroke-width="1.5" fill="none" stroke-linejoin="round" clip-path="url(#cb)"/>
<path d="M482.45 126.73 L496.36 126.45 L500.45 125.36 L502.5 124.27 L504.27 124 L506.59 126.05 L520.91 126.45 L526.36 125.36 L529.77 124.68 L531.82 124 L533.18 123.32 L534.55 124 L537.27 124.68 L540 125.64 L545.45 125.36 L550.91 126.05 L556.36 125.64 L561.82 125.36 L567.27 125.36 L571.82 125.09 L578.64 125.36 L585.45 126.05 L592.27 126.45 L599.09 126.05 L604.55 125.09 L608.64 124 L612.05 122.91 L615.18 121.95 L616.82 124.68 L619.55 125.36 L622.27 125.09 L625 123.32 L627.73 124 L630.45 122.64 L633.18 121.27 L635.23 121.95 L637.27 121 L639.32 120.59 L642.73 121.27 L646.82 121.95 L652.27 121.95" stroke="#ff1a1a" stroke-width="1.5" fill="none" stroke-linejoin="round" clip-path="url(#cc)"/>
<path d="M262.45 126.73 L270.91 126.45 L276.36 125.64 L279.09 124 L280.45 122.64 L281.55 122.64 L282.5 124 L283.86 125.09 L285.23 124 L286.18 123.32 L287 125.36 L288.64 126.73 L295.45 126.73 L300.91 126.05 L306.36 124.68 L309.09 123.73 L311.82 124 L314.55 123.32 L316.18 121.95 L317 118.55 L317.95 120.59 L318.91 119.91 L320 119.23 L321.64 115.14 L323 107.64 L324.36 104.23 L325.45 99.73 L326.14 104.23 L327.09 110.36 L328.86 117.18 L330.91 120.59 L333.36 123.32 L335.68 125.09 L337.73 124 L339.77 121.95 L341.82 119.91 L343.45 119.23 L345.23 117.86 L347.27 116.5 L349.77 114.45 L351.82 111.73 L353.86 108.32 L355.23 106.27 L356.59 98.09 L357.55 81.73 L358.36 67.41 L359.05 83.09 L359.73 89.91 L360.27 80.36 L361.09 95.36 L362.05 102.86 L362.73 103.55 L363.55 88.55 L364.09 67.41 L365.18 66.73 L365.73 91.27 L366.27 115.82 L368.18 117.86 L370.23 117.18 L372.27 115.82 L373.64 114.73 L375.68 115.82 L377.73 115.14 L379.09 113.09 L380.73 114.73 L383.18 115.82 L385.23 117.18 L387.27 119.23 L388.91 124 L390.68 126.05 L392.73 126.45 L399.55 126.45 L406.36 126.05 L413.18 125.64 L417.27 125.36 L419.32 121.95 L420.68 118.55 L421.64 119.91 L422.73 121.95 L424.77 122.64 L426.82 121.27 L428.86 119.91 L430.23 122.64 L432.27 122.64" stroke="#2020f0" stroke-width="1.5" fill="none" stroke-linejoin="round" clip-path="url(#cb)"/>
<path d="M482.45 126.45 L490.91 126.45 L497.73 126.05 L500.45 123.32 L502.09 121.27 L503.45 119.91 L505.23 121.27 L506.18 124 L507.27 126.45 L519.55 126.45 L522.27 124 L524.32 119.91 L525.68 113.09 L527.05 104.91 L528.41 94 L529.36 80.36 L530.45 79 L531.55 66.73 L532.5 64.68 L533.45 66.73 L534.27 74.91 L535.23 84.45 L536.18 85.82 L537 83.77 L537.95 98.09 L538.91 115.82 L540.68 116.5 L542.05 117.18 L542.73 104.91 L543.41 74.91 L543.82 64.68 L544.36 77.64 L545.18 98.09 L546.82 106.27 L548.18 102.18 L548.86 100.82 L549.55 107.64 L550.64 114.45 L552.27 118.55 L554.32 121.27 L555.68 118.55 L557.05 119.91 L558.41 117.86 L559.09 114.45 L559.77 118.55 L561.14 121.95 L563.18 118.55 L564.55 119.23 L565.91 121.27 L567.27 121.27 L570.45 122.64 L574.55 123.32 L577.27 122.64 L580 122.64 L582.73 124 L585.45 125.36 L589.55 126.45 L599.09 126.45 L605.91 126.05 L612.73 126.05 L619.55 125.64 L623.64 125.09 L627.73 124 L631.82 124 L634.55 123.32 L637.27 124 L640 124.68 L644.09 125.36 L648.18 126.05 L652.27 126.45" stroke="#2020f0" stroke-width="1.5" fill="none" stroke-linejoin="round" clip-path="url(#cc)"/>
<path d="M262.45 187 L265.45 185.91 L269.55 185.64 L273.64 185.64 L277.73 185.64 L281.82 186.32 L285.23 187 L288.64 188.09 L298.18 188.09 L302.27 186.32 L305 184.95 L307.05 184.55 L309.09 184.95 L311.82 185.91 L315.91 187 L321.36 187.68 L328.18 188.09 L341.82 188.09 L358.64 187.27 L362.05 185.64 L363 184.27 L364.09 186.32 L366.82 187.68 L372.27 187 L379.09 186.73 L385.91 187 L391.36 188.09 L396.82 188.09 L402.27 186.73 L407.73 185.91 L413.18 186.32 L417.27 187.27 L420 185.64 L422.05 184.27 L424.09 184.95 L426.55 184.95 L428.45 182.91 L430.23 184.27 L432.27 187" stroke="#22ee22" stroke-width="1.5" fill="none" stroke-linejoin="round" clip-path="url(#cb)"/>
<path d="M482.45 187.68 L488.18 186.73 L493.64 185.64 L497.73 185.36 L501.82 186.32 L504.55 187 L507.27 188.09 L520.91 188.09 L525 185.64 L527.73 184.95 L530.45 185.36 L533.18 187 L538.64 187 L544.09 187 L548.18 185.64 L548.86 182.91 L549.82 185.64 L553.64 186.32 L557.73 187 L561.82 187 L565.23 187 L567.27 188.09 L571.82 187 L581.36 186.73 L587.5 186.32 L588.86 185.36 L590.23 186.73 L597.73 187 L605.91 187 L612.73 185.64 L619.55 184.95 L625 184.95 L629.09 184.27 L631.82 182.91 L633.18 180.86 L634.55 182.91 L636.59 183.59 L639.32 184.27 L641.36 185.64 L644.09 187 L648.18 187.68 L652.27 188.09" stroke="#22ee22" stroke-width="1.5" fill="none" stroke-linejoin="round" clip-path="url(#cc)"/>
<path d="M262.45 188.09 L270.91 187.68 L274.32 186.32 L277.73 185.64 L281.14 185.36 L283.18 185.36 L285.91 186.32 L288.64 187.68 L298.18 188.36 L302.27 187.68 L306.36 187 L310.45 185.91 L313.18 184.27 L315.23 180.86 L316.18 176.09 L317 170.64 L317.55 165.86 L317.95 172 L318.64 177.45 L320 181.55 L322.05 184.95 L324.77 185.91 L328.18 186.73 L333.64 187.27 L341.82 187.27 L351.82 187.27 L358.64 187 L362.73 186.73 L364.77 185.91 L366.14 187 L372.27 186.73 L379.09 186.32 L384.55 185.91 L388.64 185.36 L392.73 185.91 L396.82 185.64 L402.27 185.64 L406.36 185.36 L410.45 185.64 L414.55 186.32 L417.27 187 L419.32 184.27 L420.68 180.86 L422.73 182.91 L424.77 184.27 L426.82 184.27 L428.45 181.55 L430.23 184.27 L432.27 187" stroke="#ff1a1a" stroke-width="1.5" fill="none" stroke-linejoin="round" clip-path="url(#cb)"/>
<path d="M482.45 188.09 L496.36 187.68 L499.09 185.91 L501.82 185.64 L504.55 185.91 L507.27 187.68 L520.91 188.09 L525 186.73 L527.73 185.64 L530.45 185.36 L531.82 183.59 L532.5 183.59 L533.86 185.64 L537.27 186.32 L541.36 185.91 L544.09 184.95 L546.82 185.64 L549.55 185.64 L553.64 185.91 L557.73 185.91 L561.82 185.36 L563.86 184.27 L565.91 187 L571.82 187 L578.64 187 L585.45 186.73 L592.27 186.32 L599.09 185.91 L605.91 186.32 L612.73 185.36 L619.55 185.64 L623.64 185.64 L625 183.59 L627.05 184.27 L629.09 182.91 L631.82 183.18 L634.55 182.64 L637.27 183.59 L640.68 182.91 L644.09 182.23 L646.82 181.55 L649.55 180.18 L652.27 178.55" stroke="#ff1a1a" stroke-width="1.5" fill="none" stroke-linejoin="round" clip-path="url(#cc)"/>
<path d="M262.45 188.36 L268.18 188.09 L272.95 187.68 L274.32 182.91 L276.09 182.23 L277.73 181.55 L279.09 180.86 L280.18 181.55 L281.14 178.55 L282.09 180.18 L283.18 182.91 L284.55 184.95 L286.59 187 L288.64 188.09 L296.82 188.09 L299.55 187 L301.59 183.59 L303.64 181.55 L306.36 178.14 L308.41 174.73 L309.36 174.05 L310.18 173.36 L311.14 175.41 L312.09 174.73 L313.18 164.5 L314.55 159.73 L315.91 157.68 L316.73 147.45 L317.27 129.05 L317.95 144.73 L318.91 158.36 L320 165.18 L321.36 170.64 L322.45 171.32 L323.41 170.91 L324.36 174.73 L326.14 178.14 L328.18 180.18 L330.91 182.23 L333.64 184.27 L335.68 185.91 L337.05 184.27 L339.09 180.86 L341.14 178.14 L342.5 175.82 L344.55 175 L347.27 172.68 L349.77 169.27 L351.82 166.55 L353.45 165.18 L354.82 163.14 L355.91 159.73 L356.73 148.82 L357.55 145.41 L358.23 150.18 L358.91 159.73 L359.73 159.05 L360.68 167.91 L361.64 174.73 L362.45 173.36 L363.27 154.27 L363.82 128.36 L364.91 128.36 L365.45 154.27 L366.14 177.45 L368.18 180.86 L370.23 181.82 L372.27 180.86 L374.32 180.18 L376.36 179.5 L377.73 178.14 L379.09 175.82 L380.73 177.45 L382.5 178.55 L384.55 176.77 L386.59 173.36 L387.95 174.73 L390 178.14 L392.73 180.86 L395.45 182.91 L397.5 183.59 L398.86 182.64 L400.23 184.27 L401.59 182.91 L403.36 179.5 L404.73 182.91 L406.36 184.95 L410.45 185.64 L414.55 186.73 L417.27 187.68 L419.32 184.27 L421.09 181.55 L422.73 183.18 L424.77 182.91 L426.55 184.27 L427.5 182.64 L428.86 181.55 L430.23 182.91 L432.27 183.59" stroke="#2020f0" stroke-width="1.5" fill="none" stroke-linejoin="round" clip-path="url(#cb)"/>
<path d="M482.45 188.09 L490.91 187.68 L497.45 187 L498.82 182.91 L500.45 181.55 L502.09 180.86 L503.18 179.5 L504.27 182.91 L505.91 187 L507.95 188.09 L519.55 188.09 L522.95 186.32 L525 182.91 L527.05 182.23 L529.77 182.23 L531.14 180.18 L532.09 174.73 L533.45 172.68 L534.55 174.05 L535.91 169.27 L537 170.64 L537.95 172.68 L539.32 167.91 L540.41 158.36 L541.36 167.91 L542.45 172 L543.41 174.73 L544.36 170.64 L545.45 168.59 L546.82 167.23 L547.5 158.36 L547.91 148.14 L548.45 159.73 L549.27 176.09 L550.91 178.82 L552.95 180.18 L554.32 181.55 L555.68 180.18 L557.05 178.14 L558.41 176.77 L559.09 175.41 L559.77 178.82 L561.55 178.82 L562.91 173.36 L564.55 168.59 L565.64 166.55 L566.59 154.27 L567.27 147.45 L568 161.09 L569.09 169.27 L570.45 167.91 L572.5 161.09 L574.55 143.36 L575.91 139.27 L577 136.55 L577.95 144.73 L578.64 147.45 L579.32 135.18 L579.73 127.68 L580.27 147.45 L581.09 167.91 L582.05 174.73 L583.41 177.45 L584.77 174.73 L586.82 170.64 L587.91 167.23 L588.86 170.64 L589.82 176.09 L591.59 174.73 L593.64 174.05 L595.68 176.09 L598.41 178.14 L601.14 178.82 L603.86 180.86 L606.59 181.55 L608.36 182.91 L609.73 180.86 L611.36 182.91 L613 179.5 L613.82 183.59 L616.14 184.95 L619.55 185.64 L622.27 186.32 L625 186.32 L627.73 185.64 L630.45 184.27 L632.5 182.91 L634.55 182.91 L636.59 181.55 L638.64 180.45 L640 181.55 L641.36 183.59 L644.09 184.95 L646.82 185.64 L649.55 186.32 L652.27 187" stroke="#2020f0" stroke-width="1.5" fill="none" stroke-linejoin="round" clip-path="url(#cc)"/>
<path d="M262.45 251.73 L270.91 251.05 L275 250.36 L277.05 249 L279.09 236.73 L280.45 228.55 L281.14 225.14 L282.09 228.55 L283.18 232.64 L284.27 234.68 L285.23 235.36 L286.18 233.32 L287 240.82 L287.95 249 L288.91 251.73 L298.18 251.73 L306.36 251.05 L314.55 250.64 L321.36 251.45 L335 251.73 L351.82 251.45 L358.64 251.05 L365.45 250.64 L372.27 250.36 L379.09 249 L384.55 247.91 L386.59 246.95 L387.95 249 L391.36 250.36 L396.82 250.64 L402.27 249 L405 248.32 L410.45 249 L414.55 250.36 L418.64 251.73 L424.09 251.45 L432.27 251.45" stroke="#22ee22" stroke-width="1.5" fill="none" stroke-linejoin="round" clip-path="url(#cb)"/>
<path d="M482.45 251.45 L488.18 250.09 L492.27 249 L497.73 247.64 L499.77 239.45 L501.82 228.55 L502.91 213.55 L503.86 206.73 L504.95 209.45 L505.91 216.27 L506.73 227.18 L507.55 239.45 L508.64 251.05 L520.91 251.45 L527.73 250.36 L534.55 250.09 L542.73 249.68 L544.09 249 L545.45 249.68 L550.91 250.09 L555 247.64 L556.36 246.95 L558.41 249 L561.82 250.36 L567.27 250.36 L571.82 250.09 L578.64 250.36 L585.45 249 L589.55 248.32 L592.27 249 L599.09 249 L605.91 247.91 L610 246.27 L613.41 244.91 L615.18 244.23 L616.55 246.95 L619.55 249 L625 250.09 L630.45 250.36 L638.64 250.64 L646.82 251.05 L652.27 251.05" stroke="#22ee22" stroke-width="1.5" fill="none" stroke-linejoin="round" clip-path="url(#cc)"/>
<path d="M262.45 252 L296.82 252 L300.91 250.36 L305 247.64 L307.73 245.59 L309.77 244.91 L311.14 243.55 L313.18 243.55 L315.23 242.18 L317 235.36 L317.55 232.64 L318.36 239.45 L319.32 242.18 L320.68 242.18 L322.05 236.05 L323.41 229.23 L324.77 227.86 L325.73 228.55 L326.82 235.36 L328.18 240.82 L330.23 243.55 L332.95 246.27 L335 247.64 L337.73 248.32 L340.45 246.95 L343.18 247.64 L345.91 248.73 L349.09 248.32 L353.18 247.36 L356.59 246.27 L357.95 243.55 L359.32 246.95 L360.68 247.64 L362.05 246.27 L363.41 240.82 L364.09 223.09 L364.77 213.55 L365.45 229.91 L365.86 246.27 L368.18 247.64 L372.27 247.91 L377.73 247.64 L383.18 246.95 L385.91 245.59 L387.27 246.27 L390 249 L394.09 250.36 L399.55 249.68 L402.27 247.64 L405 246.27 L407.73 247.36 L411.82 247.91 L415.23 248.32 L417.27 249 L419.32 243.55 L420.68 240.14 L422.73 240.82 L424.77 242.86 L426.82 243.55 L428.86 243.55 L430.23 244.91 L432.27 244.91" stroke="#ff1a1a" stroke-width="1.5" fill="none" stroke-linejoin="round" clip-path="url(#cb)"/>
<path d="M482.45 251.73 L520.91 251.45 L523.64 249 L526.36 244.91 L528.41 240.82 L530.45 236.73 L532.5 234.68 L533.45 238.09 L534.55 242.18 L535.91 244.91 L537.27 243.55 L538.64 247.64 L540 243.55 L541.36 244.91 L542.73 242.18 L544.09 246.27 L545.45 242.86 L546.82 247.64 L548.18 243.55 L549.55 244.23 L551.59 243.55 L553.64 242.86 L555.68 242.18 L557.05 238.09 L558 232.64 L559.09 223.77 L560.18 234 L561.14 239.45 L562.5 241.5 L563.45 231.27 L564.27 225.82 L565.23 236.73 L566.18 240.82 L568.41 242.18 L571.14 238.77 L573.18 236.05 L575.23 234.68 L577.27 236.05 L578.64 235.36 L580 236.73 L582.05 239.45 L584.09 241.5 L586.14 243.55 L588.18 246.27 L590.23 249 L595 249 L600.45 248.73 L605.91 247.91 L610 246.27 L612.05 242.18 L613.41 239.45 L614.77 238.77 L616.55 240.14 L617.5 243.55 L619.55 245.59 L622.27 246.27 L624.32 242.18 L626.36 239.45 L628.41 238.77 L630.45 236.73 L631.82 234 L633.18 228.55 L634.55 230.59 L635.91 231.27 L637.27 232.64 L638.64 236.73 L640 242.18 L642.05 247.64 L646.82 248.32 L652.27 247.64" stroke="#ff1a1a" stroke-width="1.5" fill="none" stroke-linejoin="round" clip-path="url(#cc)"/>
<path d="M262.45 250.36 L265.45 247.64 L268.18 244.91 L270.91 244.23 L272.95 242.86 L274.32 234 L275.27 227.18 L276.64 225.82 L278.41 226.5 L279.09 229.91 L279.77 236.05 L281.14 234 L282.5 238.09 L283.86 243.55 L285.23 247.64 L286.59 250.36 L288.64 251.73 L300.91 251.73 L314.55 251.05 L328.18 251.73 L358.64 251.45 L372.27 251.05 L383.18 249 L386.59 245.59 L388.64 247.64 L392.73 250.09 L399.55 250.64 L406.36 249.68 L413.18 250.36 L420 251.45 L432.27 251.45" stroke="#807a12" stroke-width="1.5" fill="none" stroke-linejoin="round" clip-path="url(#cb)"/>
<path d="M482.45 251.45 L486.82 250.36 L489.55 248.32 L492.27 245.59 L494.32 243.55 L497.05 240.82 L498 232.64 L499.09 224.45 L500.18 219 L501.14 217.64 L502.09 223.09 L502.91 228.55 L503.86 231.27 L504.82 238.09 L505.91 246.27 L507 251.05 L508.64 251.45 L520.91 251.45 L534.55 251.05 L548.18 251.05 L553.64 250.36 L559.09 249.68 L564.55 249.68 L570.45 249 L578.64 250.36 L586.82 249 L599.09 249 L605.91 248.32 L611.36 247.64 L616.82 247.64 L622.27 249.68 L630.45 250.64 L641.36 251.05 L652.27 251.05" stroke="#807a12" stroke-width="1.5" fill="none" stroke-linejoin="round" clip-path="url(#cc)"/>
<path d="M262.45 252 L273.64 252 L287.27 252 L296.82 251.73 L299.55 249 L302.27 244.91 L305 241.5 L307.05 239.45 L308.82 237.41 L310.45 239.45 L311.82 238.09 L313.18 232.64 L315.23 228.55 L316.18 221.73 L317 205.36 L317.55 194.45 L318.36 213.55 L318.91 227.18 L320 238.09 L321.36 243.55 L322.45 244.23 L323.41 240.14 L324.36 234 L325.18 229.91 L326.14 232.64 L327.5 238.77 L329.55 242.86 L332.27 245.59 L335 247.64 L337.05 248.73 L338.41 245.59 L340.45 246.27 L342.5 245.18 L344.55 246.27 L347.27 246.27 L350.45 245.59 L353.18 244.91 L355.91 244.23 L357.27 241.5 L358.64 243.55 L360 242.86 L362.05 242.18 L363 238.09 L363.82 229.91 L364.5 219 L365.18 229.91 L365.73 243.55 L366.82 246.27 L372.27 246 L377.73 245.59 L383.18 245.59 L385.91 245.18 L388.64 246.27 L392.73 247.64 L396.82 247.91 L399.55 246.27 L401.59 243.55 L403.36 240.82 L405 242.86 L407.73 244.23 L410.45 244.91 L413.18 245.18 L415.91 246.27 L417.27 248.32 L418.64 243.55 L420 236.73 L421.09 232.64 L422.05 234.68 L423.41 235.36 L424.77 236.73 L426.14 239.45 L427.5 238.09 L428.86 237.41 L430.23 241.5 L432.27 243.55" stroke="#801a9c" stroke-width="1.5" fill="none" stroke-linejoin="round" clip-path="url(#cb)"/>
<path d="M482.45 251.73 L520.91 251.45 L523.64 249 L525.68 242.86 L527.05 239.45 L528.41 238.77 L529.77 240.82 L531.14 235.36 L532.5 234.68 L533.86 236.73 L535.23 234.68 L536.59 238.09 L537.95 235.36 L538.91 234 L540 239.45 L540.95 232.64 L542.05 239.45 L543.41 236.73 L544.77 234 L546.82 234 L548.18 236.05 L548.86 232.64 L549.82 239.45 L550.91 242.18 L552.27 240.82 L553.64 243.55 L555.68 244.91 L557.05 246.27 L558.41 244.91 L559.77 248.32 L561.55 243.55 L563.18 244.23 L564.55 243.55 L566.18 242.18 L569.77 241.5 L572.5 238.09 L575.23 234.68 L576.59 231.27 L577.27 228.55 L577.95 232.64 L578.91 227.86 L579.73 229.91 L580.27 235.36 L582.05 239.45 L584.09 243.55 L586.14 246.27 L588.18 248.32 L590.23 247.91 L592.27 247.36 L596.36 246.95 L600.45 246.27 L603.18 246.95 L605.91 246.27 L608.64 244.91 L610 242.86 L612.05 240.82 L613.82 241.5 L615.45 240.14 L616.82 242.18 L618.86 244.91 L620.91 244.23 L622.95 242.18 L624.73 235.36 L625.68 236.73 L626.64 240.82 L628 239.45 L629.77 238.09 L631.82 235.36 L633.18 231.27 L634.55 232.64 L635.91 234 L637.55 233.32 L638.64 236.73 L640 242.18 L642.05 246.95 L644.77 247.91 L648.18 247.91 L652.27 246.95" stroke="#801a9c" stroke-width="1.5" fill="none" stroke-linejoin="round" clip-path="url(#cc)"/>
<path d="M39.45 342.82 L41.09 339.41 L42.73 338.73 L44.5 340.09 L46.27 343.5 L47.91 348.27 L49.95 351.68 L52.68 353.73 L54.73 354.82 L57.45 354.82 L60.18 353.05 L62.91 351 L65.64 348.95 L67.68 345.55 L69.73 344.18 L71.77 343.09 L73.55 342.55 L74.5 342.14 L75.45 345.55 L76.55 343.5 L77.91 338.73 L79.27 330.55 L80.36 323.73 L81.32 318.27 L81.73 301.91 L82.14 292.36 L82.68 301.91 L83.64 318.27 L84.73 325.09 L86.09 331.91 L87.45 340.09 L89.5 344.86 L91.55 346.91 L94.27 348.95 L97.68 351 L99.45 352.36 L101.09 351 L103.82 348.27 L106.55 346.23 L109.27 345.27 L112 344.86 L114.73 344.86 L117.45 343.5 L119.5 340.77 L121.55 342.14 L123.18 342.82 L124.27 341.45 L125.41 334.64 L126.77 332.59 L128.14 334.36 L129.5 335.32 L130.86 333.27 L131.82 332.59 L132.64 337.36 L133.59 342.14 L134.95 336.68 L135.91 336 L136.73 325.09 L137.55 312.82 L138.36 312.82 L139.18 323.73 L140 334.64 L141.09 338.73 L141.77 342.82 L142.45 340.09 L143.14 345.55 L144.5 346.91 L147.91 347.18 L151.32 348 L154.73 348 L158.82 347.18 L160.18 346.23 L161.55 341.45 L163.59 342.82 L165.64 343.5 L167.68 344.86 L169.05 340.77 L170 342.14 L171.09 337.36 L171.77 336 L172.73 340.77 L173.82 344.18 L175.86 349.64 L177.23 349.64 L179.27 346.23 L182 344.18 L184.05 340.77 L185.41 338.73 L186.77 341.45 L188.82 344.18 L191.55 346.91 L194.27 349.64 L196.32 350.32 L198.36 346.91 L199.73 337.36 L200.41 331.91 L201.36 336 L203.14 333.27 L204.5 334.64 L205.86 336.68 L207.23 336 L209.27 338.73" stroke="#000" stroke-width="1.5" fill="none" stroke-linejoin="round" clip-path="url(#cd)"/>
<path d="M39.45 414.27 L42.45 415.09 L45.18 415.36 L49.27 416.05 L54.73 416.45 L60.18 415.64 L65.64 414.27 L71.09 414 L75.18 414.27 L77.91 415.36 L82 416.05 L86.09 416.45 L98.36 416.73 L130.18 416.05 L134.95 414.68 L137.27 413.32 L139.05 415.09 L143.82 416.05 L156.09 416.05 L165.64 415.36 L173.82 416.05 L182 414.68 L190.18 415.09 L198.36 415.09 L202.45 413.73 L205.18 414.68 L209.27 414.68" stroke="#22ee22" stroke-width="1.5" fill="none" stroke-linejoin="round" clip-path="url(#cd)"/>
<path d="M39.45 415.36 L42.45 414 L45.18 414.68 L49.27 416.05 L54.73 416.45 L61.55 416.05 L67 415.09 L72.45 414.68 L76.55 414 L78.59 412.64 L80.36 408.55 L81.32 403.09 L82 401.05 L82.68 405.82 L83.64 411.27 L86.09 414.68 L91.55 415.64 L98.36 416.05 L105.18 415.36 L112 415.64 L118.82 416.05 L128.82 416.05 L135.64 415.64 L142.45 415.36 L149.27 415.09 L156.09 415.09 L162.91 414 L169.73 414.68 L176.55 415.36 L182 414.68 L187.45 414.68 L192.91 415.09 L198.36 414 L200.41 412.36 L203.55 411.95 L205.86 412.64 L209.27 414" stroke="#ff1a1a" stroke-width="1.5" fill="none" stroke-linejoin="round" clip-path="url(#cd)"/>
<path d="M39.45 413.32 L41.09 412.64 L43.14 411.27 L45.18 412.36 L47.23 414 L49.95 415.64 L53.36 416.45 L57.45 416.45 L60.86 415.36 L63.59 414 L66.32 412.64 L69.05 411.27 L71.77 410.18 L73.82 409.64 L75.18 410.18 L76.55 408.55 L77.91 404.45 L79.27 397.64 L80.09 392.18 L80.91 393.55 L81.45 381.27 L82 377.18 L82.55 381.27 L83.36 392.18 L84.73 399 L86.36 405.82 L88.14 409.23 L90.86 411.27 L94.27 412.91 L97.68 414 L99.73 415.36 L101.77 414 L104.5 411.95 L107.23 410.18 L110.64 408.27 L113.36 407.18 L116.09 406.5 L118.14 404.45 L119.91 402 L121.55 404.45 L123.18 404.73 L124.27 401.05 L125.41 394.91 L126.77 392.18 L128.14 396.27 L129.5 399.68 L130.86 399 L131.82 401.05 L132.91 406.5 L134.27 404.45 L135.64 402.41 L136.73 394.91 L137.41 387.41 L138.36 389.45 L139.05 400.36 L140.41 406.5 L141.77 411.27 L143.82 411.95 L146.55 411.55 L149.27 412.36 L153.36 412.64 L157.45 412.91 L160.18 411.95 L161.82 409.23 L163.59 409.91 L165.64 411.27 L168.36 409.64 L170.41 410.18 L171.77 411.27 L173.14 413.32 L175.18 414.68 L177.23 414.68 L179 412.64 L180.64 414 L183.36 414.68 L187.45 414.68 L191.55 415.09 L195.64 415.36 L198.36 414.68 L201.09 412.64 L203.55 412.36 L205.86 413.32 L209.27 413.73" stroke="#2020f0" stroke-width="1.5" fill="none" stroke-linejoin="round" clip-path="url(#cd)"/>
<path d="M39.45 474.64 L42.45 476 L46.55 476.68 L50.64 477.09 L56.09 478.05 L61.55 476.68 L65.64 476 L69.73 474.91 L73.82 475.32 L77.91 476.68 L83.36 477.64 L91.55 478.05 L102.45 478.05 L113.36 477.36 L130.18 477.64 L135.64 477.09 L137.27 474.36 L139.05 476.68 L143.82 477.36 L156.09 477.09 L162.91 476.68 L167 477.36 L173.82 477.64 L179.27 477.36 L186.09 476 L191.55 476 L197 476.27 L201.09 476 L205.18 474.64 L207.91 473.95 L209.27 475.32" stroke="#22ee22" stroke-width="1.5" fill="none" stroke-linejoin="round" clip-path="url(#cd)"/>
<path d="M39.45 476 L42.45 474.91 L45.18 473.95 L47.91 475.32 L52 477.36 L57.45 478.05 L64.27 477.36 L71.09 476.27 L76.55 475.73 L79.27 473.27 L80.91 465.09 L82 460.32 L83.09 465.09 L84.73 471.91 L87.45 476 L94.27 476.68 L102.45 477.09 L107.91 476.27 L113.36 477.09 L118.82 477.36 L128.82 477.36 L135.64 477.09 L142.45 477.09 L149.27 476.68 L156.09 476.68 L162.91 476 L168.36 474.64 L170.41 473.27 L171.77 471.91 L173.14 473.95 L175.18 475.32 L179.27 476 L184.73 475.32 L190.18 474.91 L194.27 476 L197 476.68 L199.73 473.27 L202.45 471.91 L205.45 470.55 L207.23 471.23 L209.27 473.95" stroke="#ff1a1a" stroke-width="1.5" fill="none" stroke-linejoin="round" clip-path="url(#cd)"/>
<path d="M39.45 471.91 L41.09 471.23 L43.14 469.18 L44.91 470.55 L46.82 473.27 L49.27 476 L52.68 477.36 L56.09 478.45 L59.5 477.64 L62.91 476 L65.64 473.95 L68.36 471.91 L71.09 470.55 L73.82 470.27 L75.86 470.82 L77.23 469.86 L78.18 463.73 L79.27 454.18 L80.36 448.73 L80.91 440.55 L81.45 420.09 L82 418.73 L82.55 429.64 L83.36 440.55 L84.45 450.09 L85.82 458.27 L87.45 463.73 L89.5 467.82 L92.23 471.23 L95.64 473.27 L98.36 474.91 L99.73 475.73 L101.77 473.95 L103.82 471.91 L106.55 471.23 L109.27 470.27 L112 469.18 L115.41 468.09 L117.45 466.73 L119.91 464 L121.55 465.09 L123.18 466.45 L124.27 464.41 L126.09 459.64 L128.14 455.55 L129.91 450.09 L131.27 447.36 L132.23 451.45 L133.18 459.64 L134.27 460.32 L135.64 456.91 L136.45 454.18 L137.27 429.64 L137.82 417.36 L138.64 421.45 L139.45 443.27 L140.41 448.73 L141.36 455.55 L142.18 459.64 L142.73 446.68 L143.27 463.73 L144.5 470.55 L146.55 471.91 L149.27 471.91 L153.36 471.64 L157.45 471.91 L160.18 471.64 L161.82 467.55 L163.59 467.82 L165.64 468.5 L168.36 467.82 L170.41 466.45 L171.77 461 L172.73 463.73 L173.82 469.18 L175.86 474.64 L177.91 474.91 L179.95 474.64 L182 473.95 L184.05 470.55 L185.41 464.41 L186.36 469.18 L188.14 473.27 L190.86 474.64 L193.59 476 L196.32 476.68 L198.36 476 L200.41 473.95 L203.14 473.27 L205.45 471.91 L207.23 471.91 L209.27 473.27" stroke="#2020f0" stroke-width="1.5" fill="none" stroke-linejoin="round" clip-path="url(#cd)"/>
<path d="M39.45 525.73 L41.09 523.68 L42.73 519.59 L44.5 521.36 L46.27 525.05 L47.91 531.18 L49.95 536.64 L52 540.05 L54.73 541.41 L64.27 540.73 L77.91 540.05 L82 539.64 L83.36 540.45 L91.55 540.45 L105.18 540.45 L135.64 540.73 L149.27 540.05 L160.18 539.36 L167 538 L171.09 536.64 L173.82 538 L179.27 538 L183.36 538 L186.09 539.09 L192.91 540.45 L203.82 540.73 L209.27 540.73" stroke="#22ee22" stroke-width="1.5" fill="none" stroke-linejoin="round" clip-path="url(#cd)"/>
<path d="M39.45 540.73 L45.18 540.45 L50.64 541 L56.09 541.41 L60.18 540.05 L63.59 537.32 L66.32 534.59 L69.73 533.23 L72.45 532.27 L74.5 531.45 L75.86 533.91 L77.23 532.55 L78.59 527.09 L79.95 518.91 L80.91 505.27 L81.45 485.5 L82.27 498.45 L83.09 513.45 L84.45 521.64 L86.09 527.09 L88.14 531.86 L90.86 533.91 L94.27 536.64 L97 538 L99.45 539.36 L101.77 538 L104.5 536.64 L106.55 535.55 L107.91 533.23 L109.27 534.59 L112 535.95 L115.41 536.36 L117.45 535.27 L119.5 534.18 L121.55 535.95 L124.27 535.27 L126.09 532.55 L127.18 531.18 L128.55 534.59 L130.18 535.27 L131.55 533.23 L132.91 535.27 L134.95 532.55 L136.32 525.05 L137.27 518.23 L138.36 523 L139.45 532.55 L141.09 535.27 L143.82 536.64 L147.91 536.64 L152 536.91 L156.09 537.32 L160.18 536.64 L162.91 536.36 L165.64 536.64 L168.36 535.95 L171.09 535 L173.14 536.64 L175.18 538 L177.23 535.27 L179.27 533.91 L182 532.55 L184.05 531.86 L185.41 528.18 L186.77 529.82 L188.82 533.23 L191.55 535.27 L194.27 536.64 L196.32 537.32 L198.36 533.91 L199.73 526.41 L200.41 520.27 L201.77 527.09 L203.14 529.82 L204.5 529.14 L205.86 531.18 L207.23 531.86 L209.27 529.14" stroke="#ff1a1a" stroke-width="1.5" fill="none" stroke-linejoin="round" clip-path="url(#cd)"/>
<path d="M39.45 531.18 L41.09 528.45 L43.14 525.73 L45.18 526.82 L47.23 528.45 L48.59 532.55 L50.64 536.64 L53.36 540.05 L56.09 541 L64.27 541 L77.91 540.73 L91.55 541 L135.64 540.73 L149.27 540.45 L160.18 540.05 L167 538.68 L171.09 536.64 L173.82 539.36 L176.55 541 L183.36 539.36 L190.18 540.45 L195.64 541.41 L203.82 541 L209.27 541" stroke="#807a12" stroke-width="1.5" fill="none" stroke-linejoin="round" clip-path="url(#cd)"/>
<path d="M39.45 541.82 L50.64 541.82 L57.45 541.41 L61.55 539.36 L64.95 537.32 L67.68 535.95 L71.09 535.27 L73.82 534.59 L75.18 535.95 L76.82 535.27 L78.59 531.18 L80.36 521.64 L81.32 512.09 L82 508 L83.09 516.18 L84.45 523 L86.09 528.45 L88.14 532.55 L91.55 535.27 L94.95 537.32 L99.05 539.36 L101.77 538.68 L105.18 536.64 L107.23 535.95 L109.95 537.32 L113.36 538 L117.45 538 L121.55 537.32 L124.27 538 L126.77 538 L128.82 536.64 L130.86 534.59 L132.23 536.64 L134.27 535.27 L136.32 531.18 L137.27 528.45 L138.36 530.5 L139.73 535.27 L141.77 537.32 L145.18 537.73 L149.27 538 L153.36 537.73 L157.45 537.73 L161.55 537.32 L165.64 537.32 L169.05 536.91 L171.09 535.95 L173.14 538 L175.18 539.36 L177.91 537.32 L180.64 535.95 L183.36 533.91 L185.41 530.5 L186.77 531.86 L188.82 535.27 L191.55 536.64 L194.27 538 L197 538.68 L199.05 533.91 L200 528.45 L201.09 530.5 L203.14 531.86 L205.18 533.23 L207.23 535.27 L209.27 535.27" stroke="#801a9c" stroke-width="1.5" fill="none" stroke-linejoin="round" clip-path="url(#cd)"/>
<path d="M262.05 352.05 L264.09 351.09 L266.82 350 L269.27 348.91 L270.91 341.14 L272.27 339.09 L273.64 337.05 L275 332.27 L276.36 333.64 L277.45 336.36 L278.41 344.55 L279.77 349.32 L281.82 353.41 L292.05 353.41 L294.09 351.36 L296.14 349.32 L298.18 345.91 L299.55 342.5 L301.59 341.14 L303.36 340.18 L305 339.09 L306.36 341.82 L307.73 343.86 L308.82 340.45 L309.77 332.27 L310.73 317.27 L311.55 295.45 L312.09 291.36 L312.91 300.91 L313.86 317.27 L314.82 326.82 L315.91 333.64 L317.27 338.41 L319.32 342.5 L322.05 345.91 L324.77 348.64 L327.09 350.68 L328.86 349.32 L330.64 345.91 L332.27 343.86 L334.73 341.82 L336.36 340.45 L338.41 339.09 L340.45 337.73 L342.5 332.95 L343.86 336.36 L344.82 334.32 L345.64 318.64 L346.18 330.91 L347.27 333.64 L348.82 330.91 L350.18 327.5 L351.14 325.45 L352.09 335 L353.18 340.45 L353.86 332.27 L354.55 302.95 L355.23 317.27 L355.91 321.36 L356.59 317.27 L357.55 325.45 L358.64 336.36 L359.73 338.41 L360.68 328.18 L361.36 336.36 L362.45 342.5 L364.09 345.23 L366.82 345.23 L369.55 345.23 L371.59 343.86 L373.36 338.41 L374.73 341.82 L377.05 341.55 L379.09 339.09 L380.18 338.41 L381.55 340.45 L382.91 339.77 L384.55 342.5 L385.91 344.55 L387.95 343.86 L389.32 347.27 L391.36 347.95 L393.41 345.91 L394.77 343.86 L396.55 337.05 L398.18 339.09 L400.23 341.14 L402 341.82 L403.64 343.86 L405 347.27 L407.05 349.32 L408.41 347.95 L410.18 343.18 L411.82 337.73 L413.18 333.64 L414.55 332.27 L415.91 334.32 L417.27 330.91 L418.36 340.45 L419.32 326.82 L420.27 333.64 L421.36 335.68 L422.73 332.95 L424.09 333.64 L425.45 339.77 L426.82 339.09 L428.86 341.82 L432 343.86" stroke="#000" stroke-width="1.5" fill="none" stroke-linejoin="round" clip-path="url(#ce)"/>
<path d="M262.05 414.73 L266.82 414.05 L272.27 413.64 L276.36 414.05 L280.45 415 L294.09 415 L298.18 413.09 L300.91 413.09 L303.64 413.64 L307.05 414.73 L311.82 415 L314.55 415.41 L328.18 415.41 L352.5 414.73 L354.27 409.95 L355.64 412.68 L357.27 414.73 L365.45 415 L379.09 414.45 L385.91 415 L392.73 414.73 L399.55 414.05 L406.36 414.05 L409.77 412 L412.5 410.36 L414.55 412 L417.27 413.36 L420 414.73 L424.09 414.73 L429.55 415.41 L432.27 415.41" stroke="#22ee22" stroke-width="1.5" fill="none" stroke-linejoin="round" clip-path="url(#ce)"/>
<path d="M262.05 415.41 L269.55 414.73 L273.64 414.05 L276.36 413.36 L279.09 414.73 L287.27 415.41 L295.45 415 L300.91 414.05 L305 414.73 L308.41 414.05 L310.45 409.27 L311.14 397 L311.82 395.64 L312.5 406.55 L313.45 412 L315.91 414.45 L321.36 415 L330.91 415 L339.09 415 L351.82 414.73 L358.64 414.45 L365.45 414.45 L372.27 414.73 L379.09 414.45 L385.91 415 L392.73 414.05 L396.82 412.68 L399.55 412.68 L402.27 413.36 L407.73 414.05 L411.82 412.68 L415.91 412 L419.32 412 L421.36 410.91 L423.41 410.64 L425.45 412 L428.18 412 L432.27 412" stroke="#ff1a1a" stroke-width="1.5" fill="none" stroke-linejoin="round" clip-path="url(#ce)"/>
<path d="M262.05 415.41 L268.18 415 L270.91 413.36 L272.95 412 L275 409.95 L276.36 410.64 L277.73 412 L279.77 414.73 L283.18 415.41 L292.73 415.41 L296.14 414.05 L298.18 412 L300.23 409.95 L302.27 409.27 L304.32 408.59 L305.68 407.91 L307.05 410.64 L308.41 405.18 L309.77 398.36 L310.73 386.09 L311.41 357.45 L312.09 373.82 L312.91 382 L313.59 388.82 L314.55 398.36 L315.91 403.14 L317.95 406.55 L320.68 409.27 L323.41 411.32 L325.45 412.68 L327.5 414.05 L329.27 410.64 L330.91 407.23 L332.95 405.18 L335 402.45 L336.36 401.77 L337.73 399.73 L339.77 397 L341.55 392.91 L342.5 389.5 L343.45 392.91 L344.55 394.27 L345.23 372.45 L345.91 392.91 L347.27 395.64 L347.73 397 L349.09 395.64 L350.45 397 L351.55 394.95 L352.5 402.45 L353.45 406.55 L354.27 392.91 L354.82 380.64 L355.64 392.91 L357 402.45 L358.64 407.91 L360.68 409.27 L364.09 409.95 L368.18 410.36 L371.59 409.95 L373.36 407.23 L375 408.59 L377.73 409.27 L380.45 409.27 L382.5 409.95 L384.55 411.32 L386.59 413.36 L388.64 415 L392.73 415 L396.82 414.05 L402.27 414.05 L405.68 415 L407.73 414.73 L410.45 413.09 L413.18 412 L415.91 413.36 L418.64 412.27 L419.73 410.64 L421.36 412 L424.09 412 L426.82 413.09 L429.55 414.05 L432.27 414.05" stroke="#2020f0" stroke-width="1.5" fill="none" stroke-linejoin="round" clip-path="url(#ce)"/>
<path d="M262.05 475 L266.82 474.32 L272.27 473.91 L276.36 475 L280.45 476.36 L287.27 477.05 L295.45 476.09 L299.55 473.91 L302.95 473.36 L306.36 474.73 L311.82 475.68 L317.27 476.36 L328.18 477.05 L341.82 476.36 L353.18 476.36 L355.23 474.32 L357.27 474.73 L358.64 476.09 L365.45 475.68 L371.59 475 L373.36 473.64 L374.73 475 L379.09 475.68 L385.91 475.68 L392.73 475 L399.55 474.32 L405 473.91 L409.09 475 L413.18 474.32 L417.27 473.64 L421.36 472.27 L423.41 473.36 L425.45 475.68 L429.55 476.36 L432.27 476.64" stroke="#22ee22" stroke-width="1.5" fill="none" stroke-linejoin="round" clip-path="url(#ce)"/>
<path d="M262.05 475.68 L266.82 475 L270.91 475 L275 473.36 L277.05 473.64 L280.45 476.09 L287.27 477.05 L295.45 477.05 L300.91 475.68 L305 475 L308.41 474.32 L309.77 472.27 L310.73 465.45 L311.55 449.09 L312.23 455.91 L313.18 469.55 L314.55 473.64 L317.27 475.27 L321.36 476.09 L328.18 476.36 L334.32 475.27 L341.82 476.09 L351.82 476.09 L358.64 475.68 L365.45 475.27 L372.27 475 L379.09 474.32 L381.82 473.64 L384.55 474.32 L387.27 473.91 L391.36 475 L395.45 475 L399.55 473.91 L405 474.32 L409.09 474.32 L411.82 472.27 L415.91 471.59 L418.64 472.27 L420.68 472 L423.41 470.91 L426.82 472.27 L429.55 472 L432.27 472.27" stroke="#ff1a1a" stroke-width="1.5" fill="none" stroke-linejoin="round" clip-path="url(#ce)"/>
<path d="M262.05 477.05 L266.82 476.36 L269.55 475.68 L270.64 471.59 L272.95 470.91 L275 467.5 L276.36 469.55 L277.73 472.27 L279.77 475.68 L282.5 477.05 L291.36 477.45 L295.45 475 L298.18 472.27 L300.91 470.23 L303.64 469.55 L306.36 470.91 L308.41 471.18 L309.77 469.55 L310.73 455.91 L311.41 417.05 L312.09 428.64 L312.91 435.45 L313.86 442.27 L315.23 450.45 L317 458.64 L319.32 465.45 L322.05 469.55 L324.77 472.95 L327.09 474.73 L328.86 472.27 L330.64 469.55 L332.95 468.86 L335 466.82 L337.73 465.45 L340.45 463.41 L342.5 461.36 L343.86 464.09 L345.23 449.09 L346.18 466.82 L347.73 455.91 L349.09 439.55 L350.18 435.45 L351.14 432.05 L352.09 449.09 L353.18 458.64 L354 442.27 L354.55 416.36 L355.23 416.36 L356.18 416.36 L357 428.64 L357.95 442.27 L358.91 454.55 L359.73 451.82 L360.41 428.64 L360.95 420.45 L361.64 449.09 L362.45 461.36 L363.82 466.82 L365.45 470.23 L368.18 469.55 L370.91 468.86 L372.27 464.09 L373.36 460.68 L374.32 465.45 L376.36 465.45 L379.09 464.77 L381.14 463.41 L382.5 462.73 L383.86 465.45 L385.91 467.5 L388.64 470.23 L391.36 472.27 L394.09 472.95 L395.73 470.91 L396.82 465.45 L397.91 470.91 L399.55 472.95 L402.27 473.64 L405 475 L407.73 475.68 L410.45 475 L413.18 473.64 L415.91 472.95 L418.64 471.59 L420 469.55 L421.36 470.91 L422.73 470.23 L424.09 471.59 L426.82 472.95 L429.55 473.64 L432.27 474.32" stroke="#2020f0" stroke-width="1.5" fill="none" stroke-linejoin="round" clip-path="url(#ce)"/>
<path d="M262.05 537.68 L265.45 536.32 L268.86 534.95 L270.91 524.73 L272.95 520.64 L274.73 512.45 L275.68 509.05 L277.05 510.41 L278 517.91 L279.09 527.45 L280.45 534.27 L282.09 539.45 L292.73 540 L300.91 539.45 L311.82 539.05 L321.36 539.45 L350.45 539.05 L358.64 539.45 L365.45 538.64 L372.27 537.68 L377.73 536.73 L380.45 535.64 L382.5 537 L385.91 537.68 L392.73 537 L395.45 535.91 L397.5 536.32 L402.27 537 L406.36 539.05 L413.18 539.73 L421.36 540 L432.27 540" stroke="#22ee22" stroke-width="1.5" fill="none" stroke-linejoin="round" clip-path="url(#ce)"/>
<path d="M262.05 540 L273.64 540 L287.27 540 L292.05 539.73 L295.45 537.68 L298.18 534.95 L299.55 532.91 L302.27 532.23 L304.32 530.86 L306.09 532.23 L307.45 533.59 L309.09 530.86 L310.18 517.91 L311.14 497.45 L311.68 479.05 L312.36 497.45 L313.45 512.45 L314.55 522 L316.59 528.82 L319.32 532.23 L322.73 534.95 L325.45 537 L328.18 537.68 L330.23 535.91 L332 533.59 L333.64 532.23 L335.68 532.91 L337.73 533.59 L340.45 533.18 L342.5 532.23 L343.45 534.27 L344.82 531.55 L345.64 526.09 L346.59 528.82 L348.41 534.27 L349.77 533.59 L351.14 531.55 L352.5 534.27 L353.45 530.18 L354.55 519.95 L355.64 524.73 L356.59 527.45 L357.55 528.82 L358.64 531.55 L360 532.23 L361.36 534.27 L364.09 534.27 L366.82 534.95 L369.55 535.36 L372.27 533.59 L375 532.91 L377.73 533.18 L380.45 532.64 L382.5 532.91 L384.55 531.55 L385.64 530.86 L386.59 534.95 L387.95 537 L390 537 L392.73 535.64 L395.18 532.91 L396.55 527.45 L397.5 529.5 L399.55 530.18 L402.27 530.86 L404.32 530.18 L405.68 535.64 L407.73 537.68 L410.45 534.27 L411.82 528.82 L412.91 523.36 L414.55 522 L415.91 517.91 L417.27 523.36 L418.64 529.5 L420 531.55 L422.05 528.82 L423.41 527.45 L424.77 531.55 L426.14 532.91 L427.5 534.95 L429.55 537 L432.27 537.68" stroke="#ff1a1a" stroke-width="1.5" fill="none" stroke-linejoin="round" clip-path="url(#ce)"/>
<path d="M262.05 539.05 L265.45 537 L268.86 535.64 L270.91 527.45 L272.95 524.05 L274.32 520.64 L275.68 519.27 L277.05 522 L278.41 528.82 L279.77 535.64 L281.55 539.73 L292.73 540 L300.91 539.73 L321.36 540 L353.18 540 L361.36 539.45 L372.27 538.36 L380.45 537 L383.18 537.68 L388.64 538.36 L396.82 537.68 L403.64 538.36 L410.45 539.45 L421.36 540 L432.27 540" stroke="#807a12" stroke-width="1.5" fill="none" stroke-linejoin="round" clip-path="url(#ce)"/>
<path d="M262.05 540.82 L273.64 540.82 L292.05 540.41 L295.45 538.36 L298.18 536.32 L300.91 534.55 L303.64 532.91 L305.68 532.91 L307.73 535.36 L309.36 531.55 L310.45 520.64 L311.55 487.91 L312.09 501.55 L312.91 515.18 L314.27 524.73 L316.59 530.18 L320 533.59 L323.41 535.91 L326.82 537.68 L329.55 537 L331.59 534.27 L333.64 534.95 L336.36 535.91 L339.09 536.32 L341.82 536.73 L344.55 535.91 L347.27 535.64 L349.09 535.64 L351.82 534.27 L353.86 531.55 L355.23 530.18 L356.59 528.14 L357.95 530.18 L360 532.23 L362.73 534.27 L366.82 536.32 L372.27 535.91 L376.36 535.64 L380.45 535.91 L384.55 535.36 L385.91 537 L390 537.68 L394.09 535.64 L395.45 531.55 L396.55 528.82 L398.18 532.23 L400.91 534.27 L405 535.64 L407.73 537 L410.18 531.55 L411.82 529.5 L413.18 528.82 L415.23 529.5 L416.59 528.14 L417.95 534.27 L420 530.86 L421.64 532.23 L423.41 534.27 L425.45 534.95 L427.5 534.27 L429.55 537 L432.27 538.36" stroke="#801a9c" stroke-width="1.5" fill="none" stroke-linejoin="round" clip-path="url(#ce)"/>
<path d="M484.45 355.77 L487.45 354 L490.86 352.36 L494.27 351 L497 349.64 L498.36 348.27 L499.45 342.82 L501.09 339.41 L502.45 334.64 L503.55 329.18 L504.5 330.55 L505.45 330.55 L506.55 342.82 L507.64 351 L508.59 355.77 L520.18 355.77 L522.91 352.36 L524.95 348.95 L527 343.5 L528.64 340.77 L530 338.05 L531.36 339.41 L532.73 340.77 L533.82 336 L535.18 330.55 L536.55 323.73 L537.23 307.36 L537.64 293.05 L538.18 301.91 L539 306 L539.95 323.73 L540.91 326.45 L542 331.91 L543.36 337.36 L545 341.45 L546.77 345.55 L548.14 349.64 L549.09 352.36 L550.18 346.91 L551.55 339.41 L552.23 341.45 L553.18 338.73 L554.27 334.64 L555.64 331.91 L556.73 323.73 L557.41 310.09 L558.36 323.73 L559.05 338.73 L559.73 327.14 L560.41 338.73 L561.36 340.09 L562.18 345.55 L563.55 346.23 L564.5 344.86 L565.45 339.41 L566.55 336 L567.64 327.82 L568.59 337.36 L570 330.55 L570.82 318.27 L571.77 330.55 L572.73 336.68 L574.5 333.27 L575.86 330.55 L576.82 322.36 L577.91 330.55 L579 338.73 L579.95 331.91 L580.64 314.18 L581.32 338.73 L582.68 342.82 L584.05 345.55 L585.41 346.23 L586.77 343.5 L588.14 340.09 L590.18 342.14 L592.23 342.82 L594.95 343.5 L596.32 346.91 L598.36 347.59 L601.09 346.91 L602.73 348.27 L604.5 346.91 L606.55 348.27 L608.59 346.23 L610.64 344.86 L612.68 341.45 L614.05 338.05 L615.41 338.73 L616.77 344.18 L618.55 346.91 L620.86 346.91 L622.91 343.5 L624 339.41 L625.36 343.5 L627 346.91 L629.05 345.55 L631.09 341.45 L632.45 337.36 L633.82 321.68 L634.5 329.18 L635.86 334.64 L636.82 329.18 L637.91 333.27 L639.27 337.36 L641.32 339.41 L643.36 342.14 L646.09 343.5 L648.82 343.5 L651.55 342.55 L654.27 344.18" stroke="#000" stroke-width="1.5" fill="none" stroke-linejoin="round" clip-path="url(#cf)"/>
<path d="M484.45 417.82 L490.18 417.41 L495.64 416.73 L499.73 416.05 L502.45 416.45 L504.5 417 L507.91 418.09 L521.55 418.09 L525.64 416.05 L528.36 415.36 L531.09 415.64 L533.82 416.45 L537.91 417 L542 417.82 L550.18 417.82 L558.36 417 L566.55 417 L572.45 415.36 L576.55 416.05 L580.64 417 L586.09 417.41 L594.27 417.82 L602.45 417 L610.64 415.64 L614.73 413.73 L616.09 415.64 L621.55 415.36 L623.59 412.64 L624.95 414 L626.32 415.36 L629.73 417 L635.18 417 L640.64 417 L648.82 417.41 L654.27 417.82" stroke="#22ee22" stroke-width="1.5" fill="none" stroke-linejoin="round" clip-path="url(#cf)"/>
<path d="M484.45 418.09 L495.64 417.82 L499.73 417.41 L503.14 416.05 L504.5 416.45 L505.86 417.82 L522.91 418.09 L528.36 417.41 L532.45 417 L535.18 415.36 L536.55 411.27 L537.5 408.55 L538.59 411.27 L539.95 416.05 L542 417.41 L550.18 417.82 L555.64 417.41 L563.82 417 L573.82 416.45 L580.64 417 L587.45 417.41 L594.27 417.82 L601.09 417.82 L607.91 417 L613.36 416.05 L615.41 415.09 L616.77 417 L621.55 417 L627 416.45 L631.09 415.09 L633.14 411.27 L634.5 409.91 L635.86 412.64 L637.91 412.91 L641.32 413.32 L644.73 412.64 L648.82 411.95 L651.55 411.95 L654.27 412.91" stroke="#ff1a1a" stroke-width="1.5" fill="none" stroke-linejoin="round" clip-path="url(#cf)"/>
<path d="M484.45 418.09 L492.91 417.82 L498.36 416.73 L501.09 414.68 L503.14 412.91 L504.91 412.64 L505.86 414.68 L507.23 417.82 L509.27 418.09 L521.55 418.09 L524.27 416.05 L527 411.27 L529.05 408.55 L530.41 407.18 L531.77 407.86 L533.14 404.45 L534.5 392.18 L536.27 386.73 L536.82 374.45 L537.36 355.36 L537.91 370.36 L538.59 381.27 L539.95 389.45 L541.32 400.36 L543.09 404.45 L545.41 405.82 L547.18 407.86 L548.82 414.68 L549.91 408.55 L550.86 399 L551.82 403.09 L552.91 400.36 L554 394.91 L555.64 388.09 L556.73 370.36 L557.41 355.36 L558.09 374.45 L559.05 399 L559.73 382.64 L560.41 388.09 L561.09 400.36 L562.45 409.91 L563.82 411.27 L565.18 407.18 L566.55 404.45 L567.64 400.36 L568.59 407.86 L570 400.36 L571.09 399 L571.77 408.55 L572.73 411.27 L575.18 412.64 L577.91 413.32 L579.95 412.64 L582 413.73 L584.73 413.32 L588.82 413.32 L592.91 413.32 L594.95 414 L597 416.73 L599.73 417.82 L605.18 417.82 L610.64 417.41 L614.73 416.05 L617.45 416.73 L621.55 417 L625.64 416.05 L629.73 416.45 L632.45 415.36 L635.18 414 L636.55 413.32 L639.27 414.68 L643.36 415.36 L648.82 416.05 L654.27 417" stroke="#2020f0" stroke-width="1.5" fill="none" stroke-linejoin="round" clip-path="url(#cf)"/>
<path d="M484.45 480.41 L490.18 479.05 L495.64 478.36 L499.73 478.64 L503.82 479.05 L507.23 480.41 L521.55 480.41 L525.64 478.36 L529.05 477 L532.45 477.68 L536.55 479.05 L543.36 480 L552.91 480 L558.36 479.05 L560 477 L561.09 479.05 L566.55 480 L573.82 479.73 L580.64 479.73 L587.45 479.05 L594.27 479.45 L601.09 479.05 L607.91 479.05 L613.36 478.36 L618.82 477.68 L624.27 477.27 L629.73 477.68 L632.45 475.64 L633.55 470.18 L634.5 474.95 L636.55 478.36 L639.27 479.05 L643.36 479.73 L648.82 479.73 L654.27 479.73" stroke="#22ee22" stroke-width="1.5" fill="none" stroke-linejoin="round" clip-path="url(#cf)"/>
<path d="M484.45 480.82 L495.64 480.41 L501.09 479.05 L503.82 478.09 L505.18 479.05 L507.23 480.41 L522.91 480.82 L528.36 479.73 L532.45 479.05 L535.18 477.68 L536.82 474.27 L537.64 467.45 L538.59 472.91 L539.95 477.68 L543.36 479.73 L550.18 480 L558.36 479.73 L563.82 480 L573.82 480 L580.64 479.45 L587.45 479.73 L594.27 479.05 L601.09 479.05 L607.91 478.36 L614.73 477.68 L621.55 477 L627 476.32 L631.09 476.32 L633.14 475.64 L635.18 474.27 L637.91 474 L640.64 474.95 L643.36 475.64 L646.09 474.27 L648.82 472.91 L651.55 470.86 L654.27 471.55" stroke="#ff1a1a" stroke-width="1.5" fill="none" stroke-linejoin="round" clip-path="url(#cf)"/>
<path d="M484.45 480.82 L492.91 480.41 L497.68 479.73 L499.05 477 L501.09 475.64 L502.45 473.59 L503.55 472.23 L504.5 474.27 L505.86 478.36 L507.91 480.41 L521.55 480.82 L524.27 479.05 L527 476.32 L529.73 474.27 L531.77 474.95 L533.82 476.32 L535.86 474.27 L536.82 463.36 L537.64 447.68 L538.59 449.73 L539.27 443.59 L539.95 449.73 L540.91 452.45 L542 456.55 L543.36 460.64 L544.73 467.45 L546.77 472.91 L548.82 477.68 L550.18 475.64 L551.27 470.18 L551.82 466.77 L552.91 470.86 L554.27 468.82 L555.64 467.45 L556.73 462 L557.68 466.09 L558.64 468.14 L559.73 469.5 L560.82 471.55 L562.45 474.27 L564.5 471.55 L565.86 467.45 L567.23 457.91 L567.91 451.09 L569.27 448.36 L570 425.18 L570.82 419.05 L571.77 441.55 L572.73 449.73 L573.82 447 L575.18 433.36 L576.27 422.45 L576.82 419.05 L577.64 430.64 L578.59 451.09 L579.27 456.55 L579.95 422.45 L580.64 419.05 L581.32 455.18 L582.27 464.73 L583.64 470.86 L585.41 471.55 L586.77 466.09 L588.14 461.32 L589.5 464.05 L591.55 466.77 L593.59 466.36 L595.64 468.14 L598.36 468.82 L601.09 470.86 L603.82 472.91 L606.55 474.27 L608.59 475.64 L610.36 474.95 L611.73 476.32 L613.36 472.23 L614.45 477 L616.09 477.68 L618.82 478.09 L621.55 477.68 L624.27 478.36 L627 479.05 L629.73 478.36 L632.45 477 L635.18 474.95 L637.23 474 L639.27 474.95 L642 475.64 L644.73 477 L648.82 478.36 L654.27 479.45" stroke="#2020f0" stroke-width="1.5" fill="none" stroke-linejoin="round" clip-path="url(#cf)"/>
<path d="M484.45 545.18 L490.18 543.41 L494.27 541.36 L497 540 L499.05 537.27 L500.41 530.45 L501.77 520.91 L503.14 510 L504.09 499.09 L504.91 499.09 L505.86 510 L506.55 525 L507.36 537.27 L508.18 545.18 L521.55 545.18 L529.73 544.09 L536.55 544.09 L543.36 544.36 L550.18 544.77 L558.36 544.36 L566.55 543.82 L567.91 541.36 L569.27 540 L572.45 543.41 L577.91 543 L580.64 544.09 L586.09 542.45 L590.18 542.73 L594.27 543 L602.45 543 L607.91 541.64 L612 540.68 L614.05 540 L616.09 540.68 L618.82 542.05 L624.27 543.82 L629.73 544.09 L635.18 544.36 L643.36 544.77 L654.27 545.18" stroke="#22ee22" stroke-width="1.5" fill="none" stroke-linejoin="round" clip-path="url(#cf)"/>
<path d="M484.45 545.45 L521.55 545.45 L523.59 544.09 L525.64 540.68 L527.68 537.95 L529.73 536.59 L531.36 537.27 L532.45 535.91 L533.82 531.82 L535.18 526.36 L536.55 519.55 L537.64 505.91 L538.59 518.18 L539.55 520.91 L540.64 529.09 L542.27 531.82 L544.05 535.91 L546.09 540 L548.82 542.73 L550.86 543.41 L552.91 541.36 L554.95 538.64 L556.32 534.55 L557.68 531.82 L559.05 529.77 L560.41 531.82 L562.45 534.55 L563.82 531.82 L565.18 533.86 L566.55 533.18 L567.64 535.91 L569.27 537.27 L570 533.18 L571.09 529.77 L572.18 537.27 L573.55 535.91 L575.18 534.55 L576.82 531.14 L577.91 533.86 L579.27 531.82 L580.64 533.18 L582 535.23 L584.73 535.91 L588.82 535.64 L592.23 534.55 L594 533.45 L595.64 537.27 L597.68 542.05 L601.09 542.05 L605.18 540.68 L607.91 540 L610.36 538.64 L612 533.18 L613.36 529.09 L615 530.45 L616.09 534.55 L617.73 539.32 L620.18 540 L622.23 535.91 L623.59 531.14 L624.95 532.5 L626.32 537.27 L628.36 537.27 L630 534.55 L631.36 530.45 L632.73 526.36 L633.55 522.27 L634.5 527.05 L635.86 531.14 L637.23 530.45 L638.59 535.91 L640.64 540 L643.36 542.05 L647.45 542.45 L651.55 540.68 L654.27 540.68" stroke="#ff1a1a" stroke-width="1.5" fill="none" stroke-linejoin="round" clip-path="url(#cf)"/>
<path d="M484.45 545.18 L488.82 543.82 L492.91 542.05 L495.64 540 L498.09 538.64 L499.05 531.82 L500.41 526.36 L501.77 525 L503.14 520.23 L504.09 525 L505.18 531.82 L506.27 538.64 L507.36 544.09 L508.59 545.18 L522.91 545.18 L536.55 544.77 L550.18 545.18 L563.82 545.18 L573.82 544.77 L580.64 544.77 L587.45 544.09 L594.27 543.82 L601.09 543.41 L607.91 542.73 L614.73 542.73 L618.82 543.41 L624.27 544.36 L632.45 545.18 L643.36 545.18 L654.27 545.18" stroke="#807a12" stroke-width="1.5" fill="none" stroke-linejoin="round" clip-path="url(#cf)"/>
<path d="M484.45 545.73 L521.55 545.45 L524.27 543.41 L527 540.68 L529.73 537.27 L531.36 535.91 L533.14 538.64 L535.18 535.91 L536.55 529.09 L537.64 516.82 L538.59 523.64 L539.55 527.05 L540.91 531.82 L543.36 535.91 L546.09 539.32 L548.82 543 L550.86 540 L552.23 539.32 L554.27 540.27 L556.32 538.36 L557.68 537.27 L559.05 540 L560.41 538.64 L561.77 542.05 L563.55 544.09 L565.18 542.73 L567.23 540 L568.59 538.64 L570.41 540 L572.45 537.27 L574.5 535.91 L576.55 533.86 L577.91 535.23 L579.55 531.82 L580.64 534.55 L582 537.27 L584.05 539.32 L587.45 540 L591.55 540 L595.64 540.68 L598.36 542.05 L601.09 542.73 L603.82 541.36 L606.55 542.45 L609.27 542.05 L612 538.64 L613.36 535.91 L614.73 537.27 L616.36 540 L618.82 542.05 L621.55 540 L622.91 534.55 L624 533.18 L625.36 538.64 L627 541.36 L629.73 540 L631.77 535.91 L632.73 531.14 L633.55 525.68 L634.5 531.82 L635.86 534.55 L637.91 536.59 L639.95 539.32 L643.36 542.45 L647.45 543.41 L651.55 543 L654.27 542.45" stroke="#801a9c" stroke-width="1.5" fill="none" stroke-linejoin="round" clip-path="url(#cf)"/>
<path d="M87.84 162.49 L90.53 159.5 L91.43 143.8 L92.18 113.15 L92.77 136.33 L93.37 155.76 L94.57 157.26 L95.61 161.74" stroke="#ff1a1a" stroke-width="1.5" fill="none" stroke-linejoin="round" clip-path="url(#ca)"/>
<line x1="41.3" y1="3.6" x2="211.8" y2="3.6" stroke="#222" stroke-width="1.5" stroke-linecap="square"/>
<line x1="211.8" y1="3.6" x2="211.8" y2="250.2" stroke="#444" stroke-width="1.5" stroke-linecap="square"/>
<line x1="41.3" y1="250.2" x2="211.8" y2="250.2" stroke="#333" stroke-width="1.5" stroke-linecap="square"/>
<line x1="41.3" y1="3.6" x2="41.3" y2="250.2" stroke="#888" stroke-width="1.6" stroke-linecap="square"/>
<line x1="41.3" y1="84" x2="211.8" y2="84" stroke="#707070" stroke-width="1.8"/>
<line x1="41.3" y1="168.6" x2="211.8" y2="168.6" stroke="#707070" stroke-width="1.8"/>
<line x1="126.5" y1="3.6" x2="126.5" y2="250.2" stroke="#111" stroke-width="1.1"/>
<text x="45.2" y="16.5" class="pl" style="font-weight:bold;font-size:12.7px">4a)</text>
<line x1="262.3" y1="3.8" x2="432.7" y2="3.8" stroke="#888" stroke-width="1.5" stroke-linecap="square"/>
<line x1="432.7" y1="3.8" x2="432.7" y2="253" stroke="#222" stroke-width="1.5" stroke-linecap="square"/>
<line x1="262.3" y1="253" x2="432.7" y2="253" stroke="#444" stroke-width="1.5" stroke-linecap="square"/>
<line x1="262.3" y1="3.8" x2="262.3" y2="253" stroke="#222" stroke-width="1.6" stroke-linecap="square"/>
<line x1="262.3" y1="65" x2="432.7" y2="65" stroke="#444" stroke-width="1.8"/>
<line x1="262.3" y1="128.1" x2="432.7" y2="128.1" stroke="#444" stroke-width="1.8"/>
<line x1="262.3" y1="190.4" x2="432.7" y2="190.4" stroke="#444" stroke-width="1.8"/>
<line x1="347.5" y1="3.8" x2="347.5" y2="253" stroke="#111" stroke-width="1.1"/>
<text x="269.1" y="18.7" class="pl" style="font-weight:bold;font-size:12.7px">4b)</text>
<line x1="482.6" y1="3.5" x2="652.7" y2="3.5" stroke="#222" stroke-width="1.5" stroke-linecap="square"/>
<line x1="652.7" y1="3.5" x2="652.7" y2="252.7" stroke="#222" stroke-width="1.5" stroke-linecap="square"/>
<line x1="482.6" y1="252.7" x2="652.7" y2="252.7" stroke="#777" stroke-width="1.5" stroke-linecap="square"/>
<line x1="482.6" y1="3.5" x2="482.6" y2="252.7" stroke="#222" stroke-width="1.6" stroke-linecap="square"/>
<line x1="482.6" y1="64.9" x2="652.7" y2="64.9" stroke="#333" stroke-width="1.8"/>
<line x1="482.6" y1="128.1" x2="652.7" y2="128.1" stroke="#333" stroke-width="1.8"/>
<line x1="482.6" y1="190.1" x2="652.7" y2="190.1" stroke="#333" stroke-width="1.8"/>
<line x1="567.6" y1="3.5" x2="567.6" y2="252.7" stroke="#666" stroke-width="1.1"/>
<text x="487.9" y="18.4" class="pl" style="font-weight:bold;font-size:12.5px">4c)</text>
<line x1="39.7" y1="293.3" x2="210" y2="293.3" stroke="#aaa" stroke-width="1.5" stroke-linecap="square"/>
<line x1="210" y1="293.3" x2="210" y2="543.7" stroke="#333" stroke-width="1.5" stroke-linecap="square"/>
<line x1="39.7" y1="543.7" x2="210" y2="543.7" stroke="#333" stroke-width="1.5" stroke-linecap="square"/>
<line x1="39.7" y1="293.3" x2="39.7" y2="543.7" stroke="#888" stroke-width="1.6" stroke-linecap="square"/>
<line x1="39.7" y1="355.1" x2="210" y2="355.1" stroke="#222" stroke-width="1.8"/>
<line x1="39.7" y1="417.9" x2="210" y2="417.9" stroke="#222" stroke-width="1.8"/>
<line x1="39.7" y1="479.9" x2="210" y2="479.9" stroke="#222" stroke-width="1.8"/>
<line x1="124.8" y1="293.3" x2="124.8" y2="543.7" stroke="#111" stroke-width="1.1"/>
<text x="45" y="308.5" class="pl" style="font-weight:bold;font-size:12.6px">4d)</text>
<line x1="262.1" y1="292.5" x2="432.5" y2="292.5" stroke="#222" stroke-width="1.5" stroke-linecap="square"/>
<line x1="432.5" y1="292.5" x2="432.5" y2="543.3" stroke="#222" stroke-width="1.5" stroke-linecap="square"/>
<line x1="262.1" y1="543.3" x2="432.5" y2="543.3" stroke="#333" stroke-width="1.5" stroke-linecap="square"/>
<line x1="262.1" y1="292.5" x2="262.1" y2="543.3" stroke="#888" stroke-width="1.6" stroke-linecap="square"/>
<line x1="262.1" y1="354" x2="432.5" y2="354" stroke="#222" stroke-width="1.8"/>
<line x1="262.1" y1="416.9" x2="432.5" y2="416.9" stroke="#222" stroke-width="1.8"/>
<line x1="262.1" y1="479.3" x2="432.5" y2="479.3" stroke="#222" stroke-width="1.8"/>
<line x1="347.3" y1="292.5" x2="347.3" y2="543.3" stroke="#555" stroke-width="1.1"/>
<text x="267.9" y="308" class="pl" style="font-weight:normal;font-size:13px">4e)</text>
<line x1="484.9" y1="293.2" x2="653.9" y2="293.2" stroke="#999" stroke-width="1.5" stroke-linecap="square"/>
<line x1="653.9" y1="293.2" x2="653.9" y2="547.5" stroke="#444" stroke-width="1.5" stroke-linecap="square"/>
<line x1="484.9" y1="547.5" x2="653.9" y2="547.5" stroke="#333" stroke-width="1.5" stroke-linecap="square"/>
<line x1="484.9" y1="293.2" x2="484.9" y2="547.5" stroke="#222" stroke-width="1.6" stroke-linecap="square"/>
<line x1="484.9" y1="356" x2="653.9" y2="356" stroke="#222" stroke-width="1.8"/>
<line x1="484.9" y1="419.7" x2="653.9" y2="419.7" stroke="#222" stroke-width="1.8"/>
<line x1="484.9" y1="482.8" x2="653.9" y2="482.8" stroke="#222" stroke-width="1.8"/>
<line x1="569.5" y1="293.2" x2="569.5" y2="547.5" stroke="#111" stroke-width="1.1"/>
<text x="490.6" y="308.8" class="pl" style="font-weight:normal;font-size:13px">4f)</text>
<line x1="41.3" y1="83.8" x2="44.3" y2="83.8" stroke="#000" stroke-width="1"/>
<line x1="41.3" y1="73.8" x2="43.1" y2="73.8" stroke="#000" stroke-width="1"/>
<line x1="41.3" y1="63.8" x2="44.3" y2="63.8" stroke="#000" stroke-width="1"/>
<line x1="41.3" y1="53.8" x2="43.1" y2="53.8" stroke="#000" stroke-width="1"/>
<line x1="41.3" y1="43.8" x2="44.3" y2="43.8" stroke="#000" stroke-width="1"/>
<line x1="41.3" y1="33.8" x2="43.1" y2="33.8" stroke="#000" stroke-width="1"/>
<line x1="41.3" y1="23.8" x2="44.3" y2="23.8" stroke="#000" stroke-width="1"/>
<line x1="41.3" y1="13.8" x2="43.1" y2="13.8" stroke="#000" stroke-width="1"/>
<line x1="41.3" y1="3.8" x2="44.3" y2="3.8" stroke="#000" stroke-width="1"/>
<line x1="41.3" y1="164.7" x2="44.3" y2="164.7" stroke="#000" stroke-width="1"/>
<line x1="41.3" y1="155.77" x2="43.1" y2="155.77" stroke="#000" stroke-width="1"/>
<line x1="41.3" y1="146.85" x2="44.3" y2="146.85" stroke="#000" stroke-width="1"/>
<line x1="41.3" y1="137.92" x2="43.1" y2="137.92" stroke="#000" stroke-width="1"/>
<line x1="41.3" y1="129" x2="44.3" y2="129" stroke="#000" stroke-width="1"/>
<line x1="41.3" y1="120.07" x2="43.1" y2="120.07" stroke="#000" stroke-width="1"/>
<line x1="41.3" y1="111.15" x2="44.3" y2="111.15" stroke="#000" stroke-width="1"/>
<line x1="41.3" y1="102.22" x2="43.1" y2="102.22" stroke="#000" stroke-width="1"/>
<line x1="41.3" y1="93.3" x2="44.3" y2="93.3" stroke="#000" stroke-width="1"/>
<line x1="41.3" y1="249.3" x2="44.3" y2="249.3" stroke="#000" stroke-width="1"/>
<line x1="41.3" y1="241.94" x2="43.1" y2="241.94" stroke="#000" stroke-width="1"/>
<line x1="41.3" y1="234.58" x2="44.3" y2="234.58" stroke="#000" stroke-width="1"/>
<line x1="41.3" y1="227.22" x2="43.1" y2="227.22" stroke="#000" stroke-width="1"/>
<line x1="41.3" y1="219.86" x2="44.3" y2="219.86" stroke="#000" stroke-width="1"/>
<line x1="41.3" y1="212.5" x2="43.1" y2="212.5" stroke="#000" stroke-width="1"/>
<line x1="41.3" y1="205.14" x2="44.3" y2="205.14" stroke="#000" stroke-width="1"/>
<line x1="41.3" y1="197.78" x2="43.1" y2="197.78" stroke="#000" stroke-width="1"/>
<line x1="41.3" y1="190.42" x2="44.3" y2="190.42" stroke="#000" stroke-width="1"/>
<line x1="41.3" y1="183.06" x2="43.1" y2="183.06" stroke="#000" stroke-width="1"/>
<line x1="41.3" y1="175.7" x2="44.3" y2="175.7" stroke="#000" stroke-width="1"/>
<line x1="41.3" y1="250.2" x2="41.3" y2="246.9" stroke="#000" stroke-width="1"/>
<line x1="55.51" y1="250.2" x2="55.51" y2="248.2" stroke="#000" stroke-width="1"/>
<line x1="69.72" y1="250.2" x2="69.72" y2="246.9" stroke="#000" stroke-width="1"/>
<line x1="83.92" y1="250.2" x2="83.92" y2="248.2" stroke="#000" stroke-width="1"/>
<line x1="98.13" y1="250.2" x2="98.13" y2="246.9" stroke="#000" stroke-width="1"/>
<line x1="112.34" y1="250.2" x2="112.34" y2="248.2" stroke="#000" stroke-width="1"/>
<line x1="126.55" y1="250.2" x2="126.55" y2="246.9" stroke="#000" stroke-width="1"/>
<line x1="140.76" y1="250.2" x2="140.76" y2="248.2" stroke="#000" stroke-width="1"/>
<line x1="154.97" y1="250.2" x2="154.97" y2="246.9" stroke="#000" stroke-width="1"/>
<line x1="169.18" y1="250.2" x2="169.18" y2="248.2" stroke="#000" stroke-width="1"/>
<line x1="183.38" y1="250.2" x2="183.38" y2="246.9" stroke="#000" stroke-width="1"/>
<line x1="197.59" y1="250.2" x2="197.59" y2="248.2" stroke="#000" stroke-width="1"/>
<line x1="211.8" y1="250.2" x2="211.8" y2="246.9" stroke="#000" stroke-width="1"/>
<line x1="262.3" y1="65" x2="265.3" y2="65" stroke="#000" stroke-width="1"/>
<line x1="262.3" y1="56.8" x2="264.1" y2="56.8" stroke="#000" stroke-width="1"/>
<line x1="262.3" y1="48.6" x2="265.3" y2="48.6" stroke="#000" stroke-width="1"/>
<line x1="262.3" y1="40.4" x2="264.1" y2="40.4" stroke="#000" stroke-width="1"/>
<line x1="262.3" y1="32.2" x2="265.3" y2="32.2" stroke="#000" stroke-width="1"/>
<line x1="262.3" y1="24" x2="264.1" y2="24" stroke="#000" stroke-width="1"/>
<line x1="262.3" y1="15.8" x2="265.3" y2="15.8" stroke="#000" stroke-width="1"/>
<line x1="262.3" y1="126.4" x2="265.3" y2="126.4" stroke="#000" stroke-width="1"/>
<line x1="262.3" y1="117.2" x2="264.1" y2="117.2" stroke="#000" stroke-width="1"/>
<line x1="262.3" y1="108" x2="265.3" y2="108" stroke="#000" stroke-width="1"/>
<line x1="262.3" y1="98.8" x2="264.1" y2="98.8" stroke="#000" stroke-width="1"/>
<line x1="262.3" y1="89.6" x2="265.3" y2="89.6" stroke="#000" stroke-width="1"/>
<line x1="262.3" y1="80.4" x2="264.1" y2="80.4" stroke="#000" stroke-width="1"/>
<line x1="262.3" y1="71.2" x2="265.3" y2="71.2" stroke="#000" stroke-width="1"/>
<line x1="262.3" y1="187.2" x2="265.3" y2="187.2" stroke="#000" stroke-width="1"/>
<line x1="262.3" y1="180.57" x2="264.1" y2="180.57" stroke="#000" stroke-width="1"/>
<line x1="262.3" y1="173.95" x2="265.3" y2="173.95" stroke="#000" stroke-width="1"/>
<line x1="262.3" y1="167.32" x2="264.1" y2="167.32" stroke="#000" stroke-width="1"/>
<line x1="262.3" y1="160.7" x2="265.3" y2="160.7" stroke="#000" stroke-width="1"/>
<line x1="262.3" y1="154.07" x2="264.1" y2="154.07" stroke="#000" stroke-width="1"/>
<line x1="262.3" y1="147.45" x2="265.3" y2="147.45" stroke="#000" stroke-width="1"/>
<line x1="262.3" y1="140.82" x2="264.1" y2="140.82" stroke="#000" stroke-width="1"/>
<line x1="262.3" y1="134.2" x2="265.3" y2="134.2" stroke="#000" stroke-width="1"/>
<line x1="262.3" y1="251" x2="265.3" y2="251" stroke="#000" stroke-width="1"/>
<line x1="262.3" y1="242.78" x2="264.1" y2="242.78" stroke="#000" stroke-width="1"/>
<line x1="262.3" y1="234.56" x2="265.3" y2="234.56" stroke="#000" stroke-width="1"/>
<line x1="262.3" y1="226.34" x2="264.1" y2="226.34" stroke="#000" stroke-width="1"/>
<line x1="262.3" y1="218.12" x2="265.3" y2="218.12" stroke="#000" stroke-width="1"/>
<line x1="262.3" y1="209.9" x2="264.1" y2="209.9" stroke="#000" stroke-width="1"/>
<line x1="262.3" y1="201.68" x2="265.3" y2="201.68" stroke="#000" stroke-width="1"/>
<line x1="262.3" y1="253" x2="262.3" y2="256.3" stroke="#000" stroke-width="1"/>
<line x1="276.5" y1="253" x2="276.5" y2="255" stroke="#000" stroke-width="1"/>
<line x1="290.7" y1="253" x2="290.7" y2="256.3" stroke="#000" stroke-width="1"/>
<line x1="304.9" y1="253" x2="304.9" y2="255" stroke="#000" stroke-width="1"/>
<line x1="319.1" y1="253" x2="319.1" y2="256.3" stroke="#000" stroke-width="1"/>
<line x1="333.3" y1="253" x2="333.3" y2="255" stroke="#000" stroke-width="1"/>
<line x1="347.5" y1="253" x2="347.5" y2="256.3" stroke="#000" stroke-width="1"/>
<line x1="361.7" y1="253" x2="361.7" y2="255" stroke="#000" stroke-width="1"/>
<line x1="375.9" y1="253" x2="375.9" y2="256.3" stroke="#000" stroke-width="1"/>
<line x1="390.1" y1="253" x2="390.1" y2="255" stroke="#000" stroke-width="1"/>
<line x1="404.3" y1="253" x2="404.3" y2="256.3" stroke="#000" stroke-width="1"/>
<line x1="418.5" y1="253" x2="418.5" y2="255" stroke="#000" stroke-width="1"/>
<line x1="432.7" y1="253" x2="432.7" y2="256.3" stroke="#000" stroke-width="1"/>
<line x1="482.6" y1="64.9" x2="485.6" y2="64.9" stroke="#000" stroke-width="1"/>
<line x1="482.6" y1="56.8" x2="484.4" y2="56.8" stroke="#000" stroke-width="1"/>
<line x1="482.6" y1="48.7" x2="485.6" y2="48.7" stroke="#000" stroke-width="1"/>
<line x1="482.6" y1="40.6" x2="484.4" y2="40.6" stroke="#000" stroke-width="1"/>
<line x1="482.6" y1="32.5" x2="485.6" y2="32.5" stroke="#000" stroke-width="1"/>
<line x1="482.6" y1="24.4" x2="484.4" y2="24.4" stroke="#000" stroke-width="1"/>
<line x1="482.6" y1="16.3" x2="485.6" y2="16.3" stroke="#000" stroke-width="1"/>
<line x1="482.6" y1="126.4" x2="485.6" y2="126.4" stroke="#000" stroke-width="1"/>
<line x1="482.6" y1="117.2" x2="484.4" y2="117.2" stroke="#000" stroke-width="1"/>
<line x1="482.6" y1="108" x2="485.6" y2="108" stroke="#000" stroke-width="1"/>
<line x1="482.6" y1="98.8" x2="484.4" y2="98.8" stroke="#000" stroke-width="1"/>
<line x1="482.6" y1="89.6" x2="485.6" y2="89.6" stroke="#000" stroke-width="1"/>
<line x1="482.6" y1="80.4" x2="484.4" y2="80.4" stroke="#000" stroke-width="1"/>
<line x1="482.6" y1="71.2" x2="485.6" y2="71.2" stroke="#000" stroke-width="1"/>
<line x1="482.6" y1="187.2" x2="485.6" y2="187.2" stroke="#000" stroke-width="1"/>
<line x1="482.6" y1="180.57" x2="484.4" y2="180.57" stroke="#000" stroke-width="1"/>
<line x1="482.6" y1="173.95" x2="485.6" y2="173.95" stroke="#000" stroke-width="1"/>
<line x1="482.6" y1="167.32" x2="484.4" y2="167.32" stroke="#000" stroke-width="1"/>
<line x1="482.6" y1="160.7" x2="485.6" y2="160.7" stroke="#000" stroke-width="1"/>
<line x1="482.6" y1="154.07" x2="484.4" y2="154.07" stroke="#000" stroke-width="1"/>
<line x1="482.6" y1="147.45" x2="485.6" y2="147.45" stroke="#000" stroke-width="1"/>
<line x1="482.6" y1="140.82" x2="484.4" y2="140.82" stroke="#000" stroke-width="1"/>
<line x1="482.6" y1="134.2" x2="485.6" y2="134.2" stroke="#000" stroke-width="1"/>
<line x1="482.6" y1="250.8" x2="485.6" y2="250.8" stroke="#000" stroke-width="1"/>
<line x1="482.6" y1="242.58" x2="484.4" y2="242.58" stroke="#000" stroke-width="1"/>
<line x1="482.6" y1="234.36" x2="485.6" y2="234.36" stroke="#000" stroke-width="1"/>
<line x1="482.6" y1="226.14" x2="484.4" y2="226.14" stroke="#000" stroke-width="1"/>
<line x1="482.6" y1="217.92" x2="485.6" y2="217.92" stroke="#000" stroke-width="1"/>
<line x1="482.6" y1="209.7" x2="484.4" y2="209.7" stroke="#000" stroke-width="1"/>
<line x1="482.6" y1="201.48" x2="485.6" y2="201.48" stroke="#000" stroke-width="1"/>
<line x1="482.6" y1="252.7" x2="482.6" y2="256" stroke="#000" stroke-width="1"/>
<line x1="496.78" y1="252.7" x2="496.78" y2="254.7" stroke="#000" stroke-width="1"/>
<line x1="510.95" y1="252.7" x2="510.95" y2="256" stroke="#000" stroke-width="1"/>
<line x1="525.12" y1="252.7" x2="525.12" y2="254.7" stroke="#000" stroke-width="1"/>
<line x1="539.3" y1="252.7" x2="539.3" y2="256" stroke="#000" stroke-width="1"/>
<line x1="553.48" y1="252.7" x2="553.48" y2="254.7" stroke="#000" stroke-width="1"/>
<line x1="567.65" y1="252.7" x2="567.65" y2="256" stroke="#000" stroke-width="1"/>
<line x1="581.83" y1="252.7" x2="581.83" y2="254.7" stroke="#000" stroke-width="1"/>
<line x1="596" y1="252.7" x2="596" y2="256" stroke="#000" stroke-width="1"/>
<line x1="610.18" y1="252.7" x2="610.18" y2="254.7" stroke="#000" stroke-width="1"/>
<line x1="624.35" y1="252.7" x2="624.35" y2="256" stroke="#000" stroke-width="1"/>
<line x1="638.53" y1="252.7" x2="638.53" y2="254.7" stroke="#000" stroke-width="1"/>
<line x1="652.7" y1="252.7" x2="652.7" y2="256" stroke="#000" stroke-width="1"/>
<line x1="39.7" y1="355.1" x2="42.7" y2="355.1" stroke="#000" stroke-width="1"/>
<line x1="39.7" y1="347" x2="41.5" y2="347" stroke="#000" stroke-width="1"/>
<line x1="39.7" y1="338.9" x2="42.7" y2="338.9" stroke="#000" stroke-width="1"/>
<line x1="39.7" y1="330.8" x2="41.5" y2="330.8" stroke="#000" stroke-width="1"/>
<line x1="39.7" y1="322.7" x2="42.7" y2="322.7" stroke="#000" stroke-width="1"/>
<line x1="39.7" y1="314.6" x2="41.5" y2="314.6" stroke="#000" stroke-width="1"/>
<line x1="39.7" y1="306.5" x2="42.7" y2="306.5" stroke="#000" stroke-width="1"/>
<line x1="39.7" y1="416" x2="42.7" y2="416" stroke="#000" stroke-width="1"/>
<line x1="39.7" y1="406.8" x2="41.5" y2="406.8" stroke="#000" stroke-width="1"/>
<line x1="39.7" y1="397.6" x2="42.7" y2="397.6" stroke="#000" stroke-width="1"/>
<line x1="39.7" y1="388.4" x2="41.5" y2="388.4" stroke="#000" stroke-width="1"/>
<line x1="39.7" y1="379.2" x2="42.7" y2="379.2" stroke="#000" stroke-width="1"/>
<line x1="39.7" y1="370" x2="41.5" y2="370" stroke="#000" stroke-width="1"/>
<line x1="39.7" y1="360.8" x2="42.7" y2="360.8" stroke="#000" stroke-width="1"/>
<line x1="39.7" y1="477.4" x2="42.7" y2="477.4" stroke="#000" stroke-width="1"/>
<line x1="39.7" y1="470.52" x2="41.5" y2="470.52" stroke="#000" stroke-width="1"/>
<line x1="39.7" y1="463.65" x2="42.7" y2="463.65" stroke="#000" stroke-width="1"/>
<line x1="39.7" y1="456.77" x2="41.5" y2="456.77" stroke="#000" stroke-width="1"/>
<line x1="39.7" y1="449.9" x2="42.7" y2="449.9" stroke="#000" stroke-width="1"/>
<line x1="39.7" y1="443.02" x2="41.5" y2="443.02" stroke="#000" stroke-width="1"/>
<line x1="39.7" y1="436.15" x2="42.7" y2="436.15" stroke="#000" stroke-width="1"/>
<line x1="39.7" y1="429.27" x2="41.5" y2="429.27" stroke="#000" stroke-width="1"/>
<line x1="39.7" y1="422.4" x2="42.7" y2="422.4" stroke="#000" stroke-width="1"/>
<line x1="39.7" y1="540.7" x2="42.7" y2="540.7" stroke="#000" stroke-width="1"/>
<line x1="39.7" y1="532.47" x2="41.5" y2="532.47" stroke="#000" stroke-width="1"/>
<line x1="39.7" y1="524.23" x2="42.7" y2="524.23" stroke="#000" stroke-width="1"/>
<line x1="39.7" y1="516" x2="41.5" y2="516" stroke="#000" stroke-width="1"/>
<line x1="39.7" y1="507.76" x2="42.7" y2="507.76" stroke="#000" stroke-width="1"/>
<line x1="39.7" y1="499.53" x2="41.5" y2="499.53" stroke="#000" stroke-width="1"/>
<line x1="39.7" y1="491.29" x2="42.7" y2="491.29" stroke="#000" stroke-width="1"/>
<line x1="39.7" y1="543.7" x2="39.7" y2="547" stroke="#000" stroke-width="1"/>
<line x1="53.89" y1="543.7" x2="53.89" y2="545.7" stroke="#000" stroke-width="1"/>
<line x1="68.08" y1="543.7" x2="68.08" y2="547" stroke="#000" stroke-width="1"/>
<line x1="82.28" y1="543.7" x2="82.28" y2="545.7" stroke="#000" stroke-width="1"/>
<line x1="96.47" y1="543.7" x2="96.47" y2="547" stroke="#000" stroke-width="1"/>
<line x1="110.66" y1="543.7" x2="110.66" y2="545.7" stroke="#000" stroke-width="1"/>
<line x1="124.85" y1="543.7" x2="124.85" y2="547" stroke="#000" stroke-width="1"/>
<line x1="139.04" y1="543.7" x2="139.04" y2="545.7" stroke="#000" stroke-width="1"/>
<line x1="153.23" y1="543.7" x2="153.23" y2="547" stroke="#000" stroke-width="1"/>
<line x1="167.43" y1="543.7" x2="167.43" y2="545.7" stroke="#000" stroke-width="1"/>
<line x1="181.62" y1="543.7" x2="181.62" y2="547" stroke="#000" stroke-width="1"/>
<line x1="195.81" y1="543.7" x2="195.81" y2="545.7" stroke="#000" stroke-width="1"/>
<line x1="210" y1="543.7" x2="210" y2="547" stroke="#000" stroke-width="1"/>
<line x1="262.1" y1="354" x2="265.1" y2="354" stroke="#000" stroke-width="1"/>
<line x1="262.1" y1="345.75" x2="263.9" y2="345.75" stroke="#000" stroke-width="1"/>
<line x1="262.1" y1="337.5" x2="265.1" y2="337.5" stroke="#000" stroke-width="1"/>
<line x1="262.1" y1="329.25" x2="263.9" y2="329.25" stroke="#000" stroke-width="1"/>
<line x1="262.1" y1="321" x2="265.1" y2="321" stroke="#000" stroke-width="1"/>
<line x1="262.1" y1="312.75" x2="263.9" y2="312.75" stroke="#000" stroke-width="1"/>
<line x1="262.1" y1="304.5" x2="265.1" y2="304.5" stroke="#000" stroke-width="1"/>
<line x1="262.1" y1="415.3" x2="265.1" y2="415.3" stroke="#000" stroke-width="1"/>
<line x1="262.1" y1="406.25" x2="263.9" y2="406.25" stroke="#000" stroke-width="1"/>
<line x1="262.1" y1="397.2" x2="265.1" y2="397.2" stroke="#000" stroke-width="1"/>
<line x1="262.1" y1="388.15" x2="263.9" y2="388.15" stroke="#000" stroke-width="1"/>
<line x1="262.1" y1="379.1" x2="265.1" y2="379.1" stroke="#000" stroke-width="1"/>
<line x1="262.1" y1="370.05" x2="263.9" y2="370.05" stroke="#000" stroke-width="1"/>
<line x1="262.1" y1="361" x2="265.1" y2="361" stroke="#000" stroke-width="1"/>
<line x1="262.1" y1="476.2" x2="265.1" y2="476.2" stroke="#000" stroke-width="1"/>
<line x1="262.1" y1="469.45" x2="263.9" y2="469.45" stroke="#000" stroke-width="1"/>
<line x1="262.1" y1="462.7" x2="265.1" y2="462.7" stroke="#000" stroke-width="1"/>
<line x1="262.1" y1="455.95" x2="263.9" y2="455.95" stroke="#000" stroke-width="1"/>
<line x1="262.1" y1="449.2" x2="265.1" y2="449.2" stroke="#000" stroke-width="1"/>
<line x1="262.1" y1="442.45" x2="263.9" y2="442.45" stroke="#000" stroke-width="1"/>
<line x1="262.1" y1="435.7" x2="265.1" y2="435.7" stroke="#000" stroke-width="1"/>
<line x1="262.1" y1="428.95" x2="263.9" y2="428.95" stroke="#000" stroke-width="1"/>
<line x1="262.1" y1="422.2" x2="265.1" y2="422.2" stroke="#000" stroke-width="1"/>
<line x1="262.1" y1="539.9" x2="265.1" y2="539.9" stroke="#000" stroke-width="1"/>
<line x1="262.1" y1="531.65" x2="263.9" y2="531.65" stroke="#000" stroke-width="1"/>
<line x1="262.1" y1="523.4" x2="265.1" y2="523.4" stroke="#000" stroke-width="1"/>
<line x1="262.1" y1="515.15" x2="263.9" y2="515.15" stroke="#000" stroke-width="1"/>
<line x1="262.1" y1="506.9" x2="265.1" y2="506.9" stroke="#000" stroke-width="1"/>
<line x1="262.1" y1="498.65" x2="263.9" y2="498.65" stroke="#000" stroke-width="1"/>
<line x1="262.1" y1="490.4" x2="265.1" y2="490.4" stroke="#000" stroke-width="1"/>
<line x1="262.1" y1="543.3" x2="262.1" y2="546.6" stroke="#000" stroke-width="1"/>
<line x1="276.3" y1="543.3" x2="276.3" y2="545.3" stroke="#000" stroke-width="1"/>
<line x1="290.5" y1="543.3" x2="290.5" y2="546.6" stroke="#000" stroke-width="1"/>
<line x1="304.7" y1="543.3" x2="304.7" y2="545.3" stroke="#000" stroke-width="1"/>
<line x1="318.9" y1="543.3" x2="318.9" y2="546.6" stroke="#000" stroke-width="1"/>
<line x1="333.1" y1="543.3" x2="333.1" y2="545.3" stroke="#000" stroke-width="1"/>
<line x1="347.3" y1="543.3" x2="347.3" y2="546.6" stroke="#000" stroke-width="1"/>
<line x1="361.5" y1="543.3" x2="361.5" y2="545.3" stroke="#000" stroke-width="1"/>
<line x1="375.7" y1="543.3" x2="375.7" y2="546.6" stroke="#000" stroke-width="1"/>
<line x1="389.9" y1="543.3" x2="389.9" y2="545.3" stroke="#000" stroke-width="1"/>
<line x1="404.1" y1="543.3" x2="404.1" y2="546.6" stroke="#000" stroke-width="1"/>
<line x1="418.3" y1="543.3" x2="418.3" y2="545.3" stroke="#000" stroke-width="1"/>
<line x1="432.5" y1="543.3" x2="432.5" y2="546.6" stroke="#000" stroke-width="1"/>
<line x1="484.9" y1="356" x2="487.9" y2="356" stroke="#000" stroke-width="1"/>
<line x1="484.9" y1="347.7" x2="486.7" y2="347.7" stroke="#000" stroke-width="1"/>
<line x1="484.9" y1="339.4" x2="487.9" y2="339.4" stroke="#000" stroke-width="1"/>
<line x1="484.9" y1="331.1" x2="486.7" y2="331.1" stroke="#000" stroke-width="1"/>
<line x1="484.9" y1="322.8" x2="487.9" y2="322.8" stroke="#000" stroke-width="1"/>
<line x1="484.9" y1="314.5" x2="486.7" y2="314.5" stroke="#000" stroke-width="1"/>
<line x1="484.9" y1="306.2" x2="487.9" y2="306.2" stroke="#000" stroke-width="1"/>
<line x1="484.9" y1="417.9" x2="487.9" y2="417.9" stroke="#000" stroke-width="1"/>
<line x1="484.9" y1="408.7" x2="486.7" y2="408.7" stroke="#000" stroke-width="1"/>
<line x1="484.9" y1="399.5" x2="487.9" y2="399.5" stroke="#000" stroke-width="1"/>
<line x1="484.9" y1="390.3" x2="486.7" y2="390.3" stroke="#000" stroke-width="1"/>
<line x1="484.9" y1="381.1" x2="487.9" y2="381.1" stroke="#000" stroke-width="1"/>
<line x1="484.9" y1="371.9" x2="486.7" y2="371.9" stroke="#000" stroke-width="1"/>
<line x1="484.9" y1="362.7" x2="487.9" y2="362.7" stroke="#000" stroke-width="1"/>
<line x1="484.9" y1="480.7" x2="487.9" y2="480.7" stroke="#000" stroke-width="1"/>
<line x1="484.9" y1="473.88" x2="486.7" y2="473.88" stroke="#000" stroke-width="1"/>
<line x1="484.9" y1="467.05" x2="487.9" y2="467.05" stroke="#000" stroke-width="1"/>
<line x1="484.9" y1="460.22" x2="486.7" y2="460.22" stroke="#000" stroke-width="1"/>
<line x1="484.9" y1="453.4" x2="487.9" y2="453.4" stroke="#000" stroke-width="1"/>
<line x1="484.9" y1="446.57" x2="486.7" y2="446.57" stroke="#000" stroke-width="1"/>
<line x1="484.9" y1="439.75" x2="487.9" y2="439.75" stroke="#000" stroke-width="1"/>
<line x1="484.9" y1="432.93" x2="486.7" y2="432.93" stroke="#000" stroke-width="1"/>
<line x1="484.9" y1="426.1" x2="487.9" y2="426.1" stroke="#000" stroke-width="1"/>
<line x1="484.9" y1="544.9" x2="487.9" y2="544.9" stroke="#000" stroke-width="1"/>
<line x1="484.9" y1="536.65" x2="486.7" y2="536.65" stroke="#000" stroke-width="1"/>
<line x1="484.9" y1="528.4" x2="487.9" y2="528.4" stroke="#000" stroke-width="1"/>
<line x1="484.9" y1="520.15" x2="486.7" y2="520.15" stroke="#000" stroke-width="1"/>
<line x1="484.9" y1="511.9" x2="487.9" y2="511.9" stroke="#000" stroke-width="1"/>
<line x1="484.9" y1="503.65" x2="486.7" y2="503.65" stroke="#000" stroke-width="1"/>
<line x1="484.9" y1="495.4" x2="487.9" y2="495.4" stroke="#000" stroke-width="1"/>
<line x1="484.9" y1="547.5" x2="484.9" y2="550.8" stroke="#000" stroke-width="1"/>
<line x1="498.98" y1="547.5" x2="498.98" y2="549.5" stroke="#000" stroke-width="1"/>
<line x1="513.07" y1="547.5" x2="513.07" y2="550.8" stroke="#000" stroke-width="1"/>
<line x1="527.15" y1="547.5" x2="527.15" y2="549.5" stroke="#000" stroke-width="1"/>
<line x1="541.23" y1="547.5" x2="541.23" y2="550.8" stroke="#000" stroke-width="1"/>
<line x1="555.32" y1="547.5" x2="555.32" y2="549.5" stroke="#000" stroke-width="1"/>
<line x1="569.4" y1="547.5" x2="569.4" y2="550.8" stroke="#000" stroke-width="1"/>
<line x1="583.48" y1="547.5" x2="583.48" y2="549.5" stroke="#000" stroke-width="1"/>
<line x1="597.57" y1="547.5" x2="597.57" y2="550.8" stroke="#000" stroke-width="1"/>
<line x1="611.65" y1="547.5" x2="611.65" y2="549.5" stroke="#000" stroke-width="1"/>
<line x1="625.73" y1="547.5" x2="625.73" y2="550.8" stroke="#000" stroke-width="1"/>
<line x1="639.82" y1="547.5" x2="639.82" y2="549.5" stroke="#000" stroke-width="1"/>
<line x1="653.9" y1="547.5" x2="653.9" y2="550.8" stroke="#000" stroke-width="1"/>
</svg>
</body></html>
